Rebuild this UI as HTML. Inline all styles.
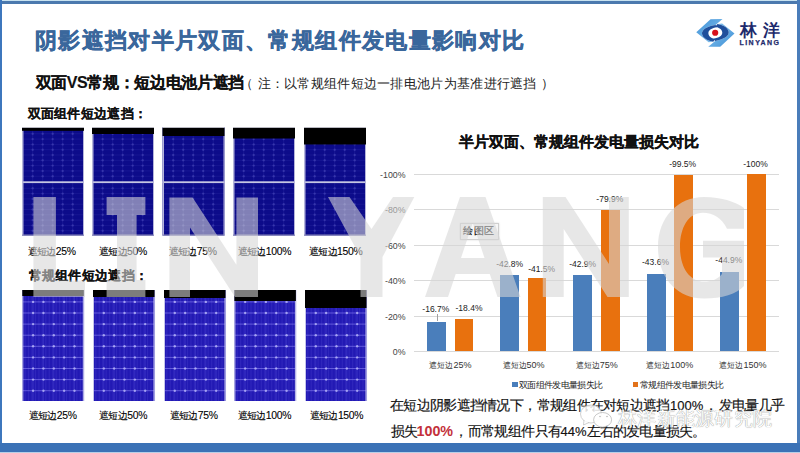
<!DOCTYPE html>
<html><head><meta charset="utf-8">
<style>
*{margin:0;padding:0;box-sizing:border-box}
html,body{width:800px;height:453px;overflow:hidden;background:#fff}
body{position:relative;font-family:"Liberation Sans",sans-serif;color:#111}
.a{position:absolute;white-space:nowrap;line-height:1}
.tp{position:absolute;top:127px;width:62px;height:108.5px;background-color:#0b0a80;
 background-image:
  linear-gradient(#c4c4e0,#c4c4e0),
  radial-gradient(circle at 50% 50%,rgba(150,150,240,.55) 0,rgba(150,150,240,.0) 1.3px),
  repeating-linear-gradient(90deg,transparent 0,transparent 9.6px,rgba(100,100,210,.22) 9.6px,rgba(100,100,210,.22) 10.4px),
  repeating-linear-gradient(180deg,transparent 0,transparent 4.6px,rgba(100,100,210,.2) 4.6px,rgba(100,100,210,.2) 5.3px);
 background-size:100% 2px,10.4px 5.3px,auto,auto;background-position:0 54px,4.8px 2.1px,0 0,0 1px;background-repeat:no-repeat,repeat,repeat,repeat;
 border-left:1.5px solid #b8b8dc;border-right:1px solid #b8b8dc;border-bottom:1px solid #8888b0}
.tp i{position:absolute;left:-1.5px;right:-1px;top:0;background:#000;border-top:1px solid #b0b0b0}
.bp{position:absolute;top:290px;width:61.5px;height:111px;background-color:#1a12a8;
 background-image:
  radial-gradient(circle at 50% 50%,rgba(235,235,255,.95) 0,rgba(235,235,255,0) 1.6px),
  repeating-linear-gradient(90deg,transparent 0,transparent 9.6px,rgba(180,180,255,.55) 9.6px,rgba(180,180,255,.55) 10.4px),
  repeating-linear-gradient(180deg,transparent 0,transparent 10.4px,rgba(180,180,255,.55) 10.4px,rgba(180,180,255,.55) 11.1px),
  repeating-linear-gradient(90deg,transparent 0,transparent 2.6px,rgba(0,0,60,.18) 2.6px,rgba(0,0,60,.18) 3.5px);
 background-size:10.4px 11.1px,auto,auto,auto;background-position:4.8px 5.3px,0 0,0 0,0 0;border-left:1px solid #c8c8e8;border-right:1px solid #c8c8e8}
.bp i{position:absolute;left:-1px;right:-1px;top:0;background:#000}
.lbl{font-size:10px;letter-spacing:-0.6px;color:#000;-webkit-text-stroke:0.1px #000}
.dg{font-size:10.4px;letter-spacing:-0.3px}
.yl{font-size:8.8px;color:#444;text-align:right;width:40px;margin-top:0.6px}
.gl{position:absolute;left:414px;width:365px;height:1px;background:#d9d9d9}
.bar{position:absolute}
.dl{font-size:8.5px;color:#222;text-align:center;width:40px}
.bt{font-size:14px;color:#111;-webkit-text-stroke:0.15px #111}
.cl{font-size:8.4px;color:#333;text-align:center;width:70px}
</style></head><body>

<!-- frame -->
<div class="a" style="left:0;top:0;width:800px;height:1px;background:#c8e2f0"></div>
<div class="a" style="left:0;top:1px;width:800px;height:2.5px;background:#4b79ae"></div>
<div class="a" style="left:0;top:0;width:2.3px;height:453px;background:#3d77bd"></div>
<div class="a" style="left:797.3px;top:0;width:2.7px;height:453px;background:#4a7dba"></div>
<div class="a" style="left:0;top:443px;width:800px;height:8.5px;background:#3b72b6"></div>
<div class="a" style="left:0;top:451.5px;width:800px;height:1.5px;background:#b8cfe6"></div>

<!-- title -->
<div class="a" style="left:35px;top:29.5px;font-size:22px;letter-spacing:1.35px;font-weight:bold;color:#3a679c;-webkit-text-stroke:0.45px #3a679c">阴影遮挡对半片双面、常规组件发电量影响对比</div>

<!-- logo -->
<svg class="a" style="left:692px;top:15px" width="50" height="35" viewBox="0 0 647 453">
 <defs>
  <linearGradient id="lg1" x1="0" y1="0" x2="1" y2="1"><stop offset="0" stop-color="#3d8fd6"/><stop offset="1" stop-color="#8cc8f0"/></linearGradient>
  <linearGradient id="lg2" x1="1" y1="1" x2="0" y2="0"><stop offset="0" stop-color="#3d8fd6"/><stop offset="1" stop-color="#8cc8f0"/></linearGradient>
 </defs>
 <path d="M240,55 L395,52 L305,128 C200,140 120,190 130,245 C140,300 210,335 275,345 L215,352 L55,222 Z" fill="url(#lg1)"/>
 <path d="M305,128 C200,140 120,190 130,245 C140,300 210,335 275,345 L300,312 C250,300 212,275 212,235 C212,195 255,168 325,158 Z" fill="#1f4f9c"/>
 <path d="M365,410 L210,412 L300,335 C405,322 485,272 475,218 C465,163 395,128 330,118 L390,110 L550,240 Z" fill="url(#lg2)"/>
 <path d="M300,335 C405,322 485,272 475,218 C465,163 395,128 330,118 L300,152 C350,162 392,188 392,228 C392,270 350,296 275,308 Z" fill="#1f4f9c"/>
 <circle cx="300" cy="230" r="40" fill="#d8101c"/>
</svg>
<div class="a" style="left:739.5px;top:21.5px;font-size:16.5px;font-weight:bold;color:#1d2a6c;letter-spacing:6px">林洋</div>
<div class="a" style="left:739.5px;top:38.8px;font-size:7px;font-weight:bold;color:#1d2a6c;letter-spacing:1.45px;top:38.6px;-webkit-text-stroke:0.25px #1d2a6c">LINYANG</div>

<!-- subtitle -->
<div class="a" style="left:35.5px;top:75.2px;font-size:16px;font-weight:bold;color:#111;-webkit-text-stroke:0.15px #111;letter-spacing:-0.35px">双面VS常规：短边电池片遮挡</div>
<div class="a" style="left:240px;top:77px;font-size:13px;color:#222">（</div>
<div class="a" style="left:257.5px;top:77px;font-size:13px;color:#222;letter-spacing:0.3px">注：以常规组件短边一排电池片为基准进行遮挡</div>
<div class="a" style="left:541px;top:77px;font-size:13px;color:#222">）</div>

<div class="a" style="left:27.5px;top:107px;font-size:13px;letter-spacing:0.3px;font-weight:bold;color:#111;-webkit-text-stroke:0.1px #111">双面组件短边遮挡：</div>
<div class="a" style="left:28.5px;top:269px;font-size:13px;letter-spacing:0.3px;font-weight:bold;color:#111;-webkit-text-stroke:0.1px #111">常规组件短边遮挡：</div>

<!-- top panels -->
<svg class="a" style="left:0;top:0" width="400" height="453">
<rect x="22" y="127" width="62" height="108.5" fill="#0c0b8a"/>
<rect x="32.20" y="127" width="1" height="108.5" fill="rgba(120,120,230,.13)"/>
<rect x="42.20" y="127" width="1" height="108.5" fill="rgba(120,120,230,.13)"/>
<rect x="52.20" y="127" width="1" height="108.5" fill="rgba(120,120,230,.13)"/>
<rect x="62.20" y="127" width="1" height="108.5" fill="rgba(120,120,230,.13)"/>
<rect x="72.20" y="127" width="1" height="108.5" fill="rgba(120,120,230,.13)"/>
<rect x="22" y="133.30" width="62" height="1" fill="rgba(120,120,230,.11)"/>
<rect x="22" y="138.60" width="62" height="1" fill="rgba(120,120,230,.11)"/>
<rect x="22" y="143.90" width="62" height="1" fill="rgba(120,120,230,.11)"/>
<rect x="22" y="149.20" width="62" height="1" fill="rgba(120,120,230,.11)"/>
<rect x="22" y="154.50" width="62" height="1" fill="rgba(120,120,230,.11)"/>
<rect x="22" y="159.80" width="62" height="1" fill="rgba(120,120,230,.11)"/>
<rect x="22" y="165.10" width="62" height="1" fill="rgba(120,120,230,.11)"/>
<rect x="22" y="170.40" width="62" height="1" fill="rgba(120,120,230,.11)"/>
<rect x="22" y="175.70" width="62" height="1" fill="rgba(120,120,230,.11)"/>
<rect x="22" y="187.80" width="62" height="1" fill="rgba(120,120,230,.11)"/>
<rect x="22" y="193.10" width="62" height="1" fill="rgba(120,120,230,.11)"/>
<rect x="22" y="198.40" width="62" height="1" fill="rgba(120,120,230,.11)"/>
<rect x="22" y="203.70" width="62" height="1" fill="rgba(120,120,230,.11)"/>
<rect x="22" y="209.00" width="62" height="1" fill="rgba(120,120,230,.11)"/>
<rect x="22" y="214.30" width="62" height="1" fill="rgba(120,120,230,.11)"/>
<rect x="22" y="219.60" width="62" height="1" fill="rgba(120,120,230,.11)"/>
<rect x="22" y="224.90" width="62" height="1" fill="rgba(120,120,230,.11)"/>
<rect x="22" y="230.20" width="62" height="1" fill="rgba(120,120,230,.11)"/>
<circle cx="32.70" cy="133.80" r="1.2" fill="rgba(140,140,235,.24)"/>
<circle cx="32.70" cy="139.10" r="1.2" fill="rgba(140,140,235,.24)"/>
<circle cx="32.70" cy="144.40" r="1.2" fill="rgba(140,140,235,.24)"/>
<circle cx="32.70" cy="149.70" r="1.2" fill="rgba(140,140,235,.24)"/>
<circle cx="32.70" cy="155.00" r="1.2" fill="rgba(140,140,235,.24)"/>
<circle cx="32.70" cy="160.30" r="1.2" fill="rgba(140,140,235,.24)"/>
<circle cx="32.70" cy="165.60" r="1.2" fill="rgba(140,140,235,.24)"/>
<circle cx="32.70" cy="170.90" r="1.2" fill="rgba(140,140,235,.24)"/>
<circle cx="32.70" cy="176.20" r="1.2" fill="rgba(140,140,235,.24)"/>
<circle cx="32.70" cy="188.30" r="1.2" fill="rgba(140,140,235,.24)"/>
<circle cx="32.70" cy="193.60" r="1.2" fill="rgba(140,140,235,.24)"/>
<circle cx="32.70" cy="198.90" r="1.2" fill="rgba(140,140,235,.24)"/>
<circle cx="32.70" cy="204.20" r="1.2" fill="rgba(140,140,235,.24)"/>
<circle cx="32.70" cy="209.50" r="1.2" fill="rgba(140,140,235,.24)"/>
<circle cx="32.70" cy="214.80" r="1.2" fill="rgba(140,140,235,.24)"/>
<circle cx="32.70" cy="220.10" r="1.2" fill="rgba(140,140,235,.24)"/>
<circle cx="32.70" cy="225.40" r="1.2" fill="rgba(140,140,235,.24)"/>
<circle cx="32.70" cy="230.70" r="1.2" fill="rgba(140,140,235,.24)"/>
<circle cx="42.70" cy="133.80" r="1.2" fill="rgba(140,140,235,.24)"/>
<circle cx="42.70" cy="139.10" r="1.2" fill="rgba(140,140,235,.24)"/>
<circle cx="42.70" cy="144.40" r="1.2" fill="rgba(140,140,235,.24)"/>
<circle cx="42.70" cy="149.70" r="1.2" fill="rgba(140,140,235,.24)"/>
<circle cx="42.70" cy="155.00" r="1.2" fill="rgba(140,140,235,.24)"/>
<circle cx="42.70" cy="160.30" r="1.2" fill="rgba(140,140,235,.24)"/>
<circle cx="42.70" cy="165.60" r="1.2" fill="rgba(140,140,235,.24)"/>
<circle cx="42.70" cy="170.90" r="1.2" fill="rgba(140,140,235,.24)"/>
<circle cx="42.70" cy="176.20" r="1.2" fill="rgba(140,140,235,.24)"/>
<circle cx="42.70" cy="188.30" r="1.2" fill="rgba(140,140,235,.24)"/>
<circle cx="42.70" cy="193.60" r="1.2" fill="rgba(140,140,235,.24)"/>
<circle cx="42.70" cy="198.90" r="1.2" fill="rgba(140,140,235,.24)"/>
<circle cx="42.70" cy="204.20" r="1.2" fill="rgba(140,140,235,.24)"/>
<circle cx="42.70" cy="209.50" r="1.2" fill="rgba(140,140,235,.24)"/>
<circle cx="42.70" cy="214.80" r="1.2" fill="rgba(140,140,235,.24)"/>
<circle cx="42.70" cy="220.10" r="1.2" fill="rgba(140,140,235,.24)"/>
<circle cx="42.70" cy="225.40" r="1.2" fill="rgba(140,140,235,.24)"/>
<circle cx="42.70" cy="230.70" r="1.2" fill="rgba(140,140,235,.24)"/>
<circle cx="52.70" cy="133.80" r="1.2" fill="rgba(140,140,235,.24)"/>
<circle cx="52.70" cy="139.10" r="1.2" fill="rgba(140,140,235,.24)"/>
<circle cx="52.70" cy="144.40" r="1.2" fill="rgba(140,140,235,.24)"/>
<circle cx="52.70" cy="149.70" r="1.2" fill="rgba(140,140,235,.24)"/>
<circle cx="52.70" cy="155.00" r="1.2" fill="rgba(140,140,235,.24)"/>
<circle cx="52.70" cy="160.30" r="1.2" fill="rgba(140,140,235,.24)"/>
<circle cx="52.70" cy="165.60" r="1.2" fill="rgba(140,140,235,.24)"/>
<circle cx="52.70" cy="170.90" r="1.2" fill="rgba(140,140,235,.24)"/>
<circle cx="52.70" cy="176.20" r="1.2" fill="rgba(140,140,235,.24)"/>
<circle cx="52.70" cy="188.30" r="1.2" fill="rgba(140,140,235,.24)"/>
<circle cx="52.70" cy="193.60" r="1.2" fill="rgba(140,140,235,.24)"/>
<circle cx="52.70" cy="198.90" r="1.2" fill="rgba(140,140,235,.24)"/>
<circle cx="52.70" cy="204.20" r="1.2" fill="rgba(140,140,235,.24)"/>
<circle cx="52.70" cy="209.50" r="1.2" fill="rgba(140,140,235,.24)"/>
<circle cx="52.70" cy="214.80" r="1.2" fill="rgba(140,140,235,.24)"/>
<circle cx="52.70" cy="220.10" r="1.2" fill="rgba(140,140,235,.24)"/>
<circle cx="52.70" cy="225.40" r="1.2" fill="rgba(140,140,235,.24)"/>
<circle cx="52.70" cy="230.70" r="1.2" fill="rgba(140,140,235,.24)"/>
<circle cx="62.70" cy="133.80" r="1.2" fill="rgba(140,140,235,.24)"/>
<circle cx="62.70" cy="139.10" r="1.2" fill="rgba(140,140,235,.24)"/>
<circle cx="62.70" cy="144.40" r="1.2" fill="rgba(140,140,235,.24)"/>
<circle cx="62.70" cy="149.70" r="1.2" fill="rgba(140,140,235,.24)"/>
<circle cx="62.70" cy="155.00" r="1.2" fill="rgba(140,140,235,.24)"/>
<circle cx="62.70" cy="160.30" r="1.2" fill="rgba(140,140,235,.24)"/>
<circle cx="62.70" cy="165.60" r="1.2" fill="rgba(140,140,235,.24)"/>
<circle cx="62.70" cy="170.90" r="1.2" fill="rgba(140,140,235,.24)"/>
<circle cx="62.70" cy="176.20" r="1.2" fill="rgba(140,140,235,.24)"/>
<circle cx="62.70" cy="188.30" r="1.2" fill="rgba(140,140,235,.24)"/>
<circle cx="62.70" cy="193.60" r="1.2" fill="rgba(140,140,235,.24)"/>
<circle cx="62.70" cy="198.90" r="1.2" fill="rgba(140,140,235,.24)"/>
<circle cx="62.70" cy="204.20" r="1.2" fill="rgba(140,140,235,.24)"/>
<circle cx="62.70" cy="209.50" r="1.2" fill="rgba(140,140,235,.24)"/>
<circle cx="62.70" cy="214.80" r="1.2" fill="rgba(140,140,235,.24)"/>
<circle cx="62.70" cy="220.10" r="1.2" fill="rgba(140,140,235,.24)"/>
<circle cx="62.70" cy="225.40" r="1.2" fill="rgba(140,140,235,.24)"/>
<circle cx="62.70" cy="230.70" r="1.2" fill="rgba(140,140,235,.24)"/>
<circle cx="72.70" cy="133.80" r="1.2" fill="rgba(140,140,235,.24)"/>
<circle cx="72.70" cy="139.10" r="1.2" fill="rgba(140,140,235,.24)"/>
<circle cx="72.70" cy="144.40" r="1.2" fill="rgba(140,140,235,.24)"/>
<circle cx="72.70" cy="149.70" r="1.2" fill="rgba(140,140,235,.24)"/>
<circle cx="72.70" cy="155.00" r="1.2" fill="rgba(140,140,235,.24)"/>
<circle cx="72.70" cy="160.30" r="1.2" fill="rgba(140,140,235,.24)"/>
<circle cx="72.70" cy="165.60" r="1.2" fill="rgba(140,140,235,.24)"/>
<circle cx="72.70" cy="170.90" r="1.2" fill="rgba(140,140,235,.24)"/>
<circle cx="72.70" cy="176.20" r="1.2" fill="rgba(140,140,235,.24)"/>
<circle cx="72.70" cy="188.30" r="1.2" fill="rgba(140,140,235,.24)"/>
<circle cx="72.70" cy="193.60" r="1.2" fill="rgba(140,140,235,.24)"/>
<circle cx="72.70" cy="198.90" r="1.2" fill="rgba(140,140,235,.24)"/>
<circle cx="72.70" cy="204.20" r="1.2" fill="rgba(140,140,235,.24)"/>
<circle cx="72.70" cy="209.50" r="1.2" fill="rgba(140,140,235,.24)"/>
<circle cx="72.70" cy="214.80" r="1.2" fill="rgba(140,140,235,.24)"/>
<circle cx="72.70" cy="220.10" r="1.2" fill="rgba(140,140,235,.24)"/>
<circle cx="72.70" cy="225.40" r="1.2" fill="rgba(140,140,235,.24)"/>
<circle cx="72.70" cy="230.70" r="1.2" fill="rgba(140,140,235,.24)"/>
<rect x="22" y="181.3" width="62" height="1.8" fill="#c6c6e2"/>
<rect x="22" y="127" width="1.5" height="108.5" fill="#b4b4da"/>
<rect x="83" y="127" width="1" height="108.5" fill="#b4b4da"/>
<rect x="22" y="234.5" width="62" height="1" fill="#8a8ab8"/>
<rect x="22" y="128" width="62" height="2.8" fill="#000"/>
<rect x="22" y="127" width="62" height="1" fill="#b8b8c0"/>
<rect x="92" y="127" width="62" height="108.5" fill="#0c0b8a"/>
<rect x="102.20" y="127" width="1" height="108.5" fill="rgba(120,120,230,.13)"/>
<rect x="112.20" y="127" width="1" height="108.5" fill="rgba(120,120,230,.13)"/>
<rect x="122.20" y="127" width="1" height="108.5" fill="rgba(120,120,230,.13)"/>
<rect x="132.20" y="127" width="1" height="108.5" fill="rgba(120,120,230,.13)"/>
<rect x="142.20" y="127" width="1" height="108.5" fill="rgba(120,120,230,.13)"/>
<rect x="92" y="133.30" width="62" height="1" fill="rgba(120,120,230,.11)"/>
<rect x="92" y="138.60" width="62" height="1" fill="rgba(120,120,230,.11)"/>
<rect x="92" y="143.90" width="62" height="1" fill="rgba(120,120,230,.11)"/>
<rect x="92" y="149.20" width="62" height="1" fill="rgba(120,120,230,.11)"/>
<rect x="92" y="154.50" width="62" height="1" fill="rgba(120,120,230,.11)"/>
<rect x="92" y="159.80" width="62" height="1" fill="rgba(120,120,230,.11)"/>
<rect x="92" y="165.10" width="62" height="1" fill="rgba(120,120,230,.11)"/>
<rect x="92" y="170.40" width="62" height="1" fill="rgba(120,120,230,.11)"/>
<rect x="92" y="175.70" width="62" height="1" fill="rgba(120,120,230,.11)"/>
<rect x="92" y="187.80" width="62" height="1" fill="rgba(120,120,230,.11)"/>
<rect x="92" y="193.10" width="62" height="1" fill="rgba(120,120,230,.11)"/>
<rect x="92" y="198.40" width="62" height="1" fill="rgba(120,120,230,.11)"/>
<rect x="92" y="203.70" width="62" height="1" fill="rgba(120,120,230,.11)"/>
<rect x="92" y="209.00" width="62" height="1" fill="rgba(120,120,230,.11)"/>
<rect x="92" y="214.30" width="62" height="1" fill="rgba(120,120,230,.11)"/>
<rect x="92" y="219.60" width="62" height="1" fill="rgba(120,120,230,.11)"/>
<rect x="92" y="224.90" width="62" height="1" fill="rgba(120,120,230,.11)"/>
<rect x="92" y="230.20" width="62" height="1" fill="rgba(120,120,230,.11)"/>
<circle cx="102.70" cy="133.80" r="1.2" fill="rgba(140,140,235,.24)"/>
<circle cx="102.70" cy="139.10" r="1.2" fill="rgba(140,140,235,.24)"/>
<circle cx="102.70" cy="144.40" r="1.2" fill="rgba(140,140,235,.24)"/>
<circle cx="102.70" cy="149.70" r="1.2" fill="rgba(140,140,235,.24)"/>
<circle cx="102.70" cy="155.00" r="1.2" fill="rgba(140,140,235,.24)"/>
<circle cx="102.70" cy="160.30" r="1.2" fill="rgba(140,140,235,.24)"/>
<circle cx="102.70" cy="165.60" r="1.2" fill="rgba(140,140,235,.24)"/>
<circle cx="102.70" cy="170.90" r="1.2" fill="rgba(140,140,235,.24)"/>
<circle cx="102.70" cy="176.20" r="1.2" fill="rgba(140,140,235,.24)"/>
<circle cx="102.70" cy="188.30" r="1.2" fill="rgba(140,140,235,.24)"/>
<circle cx="102.70" cy="193.60" r="1.2" fill="rgba(140,140,235,.24)"/>
<circle cx="102.70" cy="198.90" r="1.2" fill="rgba(140,140,235,.24)"/>
<circle cx="102.70" cy="204.20" r="1.2" fill="rgba(140,140,235,.24)"/>
<circle cx="102.70" cy="209.50" r="1.2" fill="rgba(140,140,235,.24)"/>
<circle cx="102.70" cy="214.80" r="1.2" fill="rgba(140,140,235,.24)"/>
<circle cx="102.70" cy="220.10" r="1.2" fill="rgba(140,140,235,.24)"/>
<circle cx="102.70" cy="225.40" r="1.2" fill="rgba(140,140,235,.24)"/>
<circle cx="102.70" cy="230.70" r="1.2" fill="rgba(140,140,235,.24)"/>
<circle cx="112.70" cy="133.80" r="1.2" fill="rgba(140,140,235,.24)"/>
<circle cx="112.70" cy="139.10" r="1.2" fill="rgba(140,140,235,.24)"/>
<circle cx="112.70" cy="144.40" r="1.2" fill="rgba(140,140,235,.24)"/>
<circle cx="112.70" cy="149.70" r="1.2" fill="rgba(140,140,235,.24)"/>
<circle cx="112.70" cy="155.00" r="1.2" fill="rgba(140,140,235,.24)"/>
<circle cx="112.70" cy="160.30" r="1.2" fill="rgba(140,140,235,.24)"/>
<circle cx="112.70" cy="165.60" r="1.2" fill="rgba(140,140,235,.24)"/>
<circle cx="112.70" cy="170.90" r="1.2" fill="rgba(140,140,235,.24)"/>
<circle cx="112.70" cy="176.20" r="1.2" fill="rgba(140,140,235,.24)"/>
<circle cx="112.70" cy="188.30" r="1.2" fill="rgba(140,140,235,.24)"/>
<circle cx="112.70" cy="193.60" r="1.2" fill="rgba(140,140,235,.24)"/>
<circle cx="112.70" cy="198.90" r="1.2" fill="rgba(140,140,235,.24)"/>
<circle cx="112.70" cy="204.20" r="1.2" fill="rgba(140,140,235,.24)"/>
<circle cx="112.70" cy="209.50" r="1.2" fill="rgba(140,140,235,.24)"/>
<circle cx="112.70" cy="214.80" r="1.2" fill="rgba(140,140,235,.24)"/>
<circle cx="112.70" cy="220.10" r="1.2" fill="rgba(140,140,235,.24)"/>
<circle cx="112.70" cy="225.40" r="1.2" fill="rgba(140,140,235,.24)"/>
<circle cx="112.70" cy="230.70" r="1.2" fill="rgba(140,140,235,.24)"/>
<circle cx="122.70" cy="133.80" r="1.2" fill="rgba(140,140,235,.24)"/>
<circle cx="122.70" cy="139.10" r="1.2" fill="rgba(140,140,235,.24)"/>
<circle cx="122.70" cy="144.40" r="1.2" fill="rgba(140,140,235,.24)"/>
<circle cx="122.70" cy="149.70" r="1.2" fill="rgba(140,140,235,.24)"/>
<circle cx="122.70" cy="155.00" r="1.2" fill="rgba(140,140,235,.24)"/>
<circle cx="122.70" cy="160.30" r="1.2" fill="rgba(140,140,235,.24)"/>
<circle cx="122.70" cy="165.60" r="1.2" fill="rgba(140,140,235,.24)"/>
<circle cx="122.70" cy="170.90" r="1.2" fill="rgba(140,140,235,.24)"/>
<circle cx="122.70" cy="176.20" r="1.2" fill="rgba(140,140,235,.24)"/>
<circle cx="122.70" cy="188.30" r="1.2" fill="rgba(140,140,235,.24)"/>
<circle cx="122.70" cy="193.60" r="1.2" fill="rgba(140,140,235,.24)"/>
<circle cx="122.70" cy="198.90" r="1.2" fill="rgba(140,140,235,.24)"/>
<circle cx="122.70" cy="204.20" r="1.2" fill="rgba(140,140,235,.24)"/>
<circle cx="122.70" cy="209.50" r="1.2" fill="rgba(140,140,235,.24)"/>
<circle cx="122.70" cy="214.80" r="1.2" fill="rgba(140,140,235,.24)"/>
<circle cx="122.70" cy="220.10" r="1.2" fill="rgba(140,140,235,.24)"/>
<circle cx="122.70" cy="225.40" r="1.2" fill="rgba(140,140,235,.24)"/>
<circle cx="122.70" cy="230.70" r="1.2" fill="rgba(140,140,235,.24)"/>
<circle cx="132.70" cy="133.80" r="1.2" fill="rgba(140,140,235,.24)"/>
<circle cx="132.70" cy="139.10" r="1.2" fill="rgba(140,140,235,.24)"/>
<circle cx="132.70" cy="144.40" r="1.2" fill="rgba(140,140,235,.24)"/>
<circle cx="132.70" cy="149.70" r="1.2" fill="rgba(140,140,235,.24)"/>
<circle cx="132.70" cy="155.00" r="1.2" fill="rgba(140,140,235,.24)"/>
<circle cx="132.70" cy="160.30" r="1.2" fill="rgba(140,140,235,.24)"/>
<circle cx="132.70" cy="165.60" r="1.2" fill="rgba(140,140,235,.24)"/>
<circle cx="132.70" cy="170.90" r="1.2" fill="rgba(140,140,235,.24)"/>
<circle cx="132.70" cy="176.20" r="1.2" fill="rgba(140,140,235,.24)"/>
<circle cx="132.70" cy="188.30" r="1.2" fill="rgba(140,140,235,.24)"/>
<circle cx="132.70" cy="193.60" r="1.2" fill="rgba(140,140,235,.24)"/>
<circle cx="132.70" cy="198.90" r="1.2" fill="rgba(140,140,235,.24)"/>
<circle cx="132.70" cy="204.20" r="1.2" fill="rgba(140,140,235,.24)"/>
<circle cx="132.70" cy="209.50" r="1.2" fill="rgba(140,140,235,.24)"/>
<circle cx="132.70" cy="214.80" r="1.2" fill="rgba(140,140,235,.24)"/>
<circle cx="132.70" cy="220.10" r="1.2" fill="rgba(140,140,235,.24)"/>
<circle cx="132.70" cy="225.40" r="1.2" fill="rgba(140,140,235,.24)"/>
<circle cx="132.70" cy="230.70" r="1.2" fill="rgba(140,140,235,.24)"/>
<circle cx="142.70" cy="133.80" r="1.2" fill="rgba(140,140,235,.24)"/>
<circle cx="142.70" cy="139.10" r="1.2" fill="rgba(140,140,235,.24)"/>
<circle cx="142.70" cy="144.40" r="1.2" fill="rgba(140,140,235,.24)"/>
<circle cx="142.70" cy="149.70" r="1.2" fill="rgba(140,140,235,.24)"/>
<circle cx="142.70" cy="155.00" r="1.2" fill="rgba(140,140,235,.24)"/>
<circle cx="142.70" cy="160.30" r="1.2" fill="rgba(140,140,235,.24)"/>
<circle cx="142.70" cy="165.60" r="1.2" fill="rgba(140,140,235,.24)"/>
<circle cx="142.70" cy="170.90" r="1.2" fill="rgba(140,140,235,.24)"/>
<circle cx="142.70" cy="176.20" r="1.2" fill="rgba(140,140,235,.24)"/>
<circle cx="142.70" cy="188.30" r="1.2" fill="rgba(140,140,235,.24)"/>
<circle cx="142.70" cy="193.60" r="1.2" fill="rgba(140,140,235,.24)"/>
<circle cx="142.70" cy="198.90" r="1.2" fill="rgba(140,140,235,.24)"/>
<circle cx="142.70" cy="204.20" r="1.2" fill="rgba(140,140,235,.24)"/>
<circle cx="142.70" cy="209.50" r="1.2" fill="rgba(140,140,235,.24)"/>
<circle cx="142.70" cy="214.80" r="1.2" fill="rgba(140,140,235,.24)"/>
<circle cx="142.70" cy="220.10" r="1.2" fill="rgba(140,140,235,.24)"/>
<circle cx="142.70" cy="225.40" r="1.2" fill="rgba(140,140,235,.24)"/>
<circle cx="142.70" cy="230.70" r="1.2" fill="rgba(140,140,235,.24)"/>
<rect x="92" y="181.3" width="62" height="1.8" fill="#c6c6e2"/>
<rect x="92" y="127" width="1.5" height="108.5" fill="#b4b4da"/>
<rect x="153" y="127" width="1" height="108.5" fill="#b4b4da"/>
<rect x="92" y="234.5" width="62" height="1" fill="#8a8ab8"/>
<rect x="92" y="128" width="62" height="6" fill="#000"/>
<rect x="92" y="127" width="62" height="1" fill="#b8b8c0"/>
<rect x="162.5" y="127" width="62" height="108.5" fill="#0c0b8a"/>
<rect x="172.70" y="127" width="1" height="108.5" fill="rgba(120,120,230,.13)"/>
<rect x="182.70" y="127" width="1" height="108.5" fill="rgba(120,120,230,.13)"/>
<rect x="192.70" y="127" width="1" height="108.5" fill="rgba(120,120,230,.13)"/>
<rect x="202.70" y="127" width="1" height="108.5" fill="rgba(120,120,230,.13)"/>
<rect x="212.70" y="127" width="1" height="108.5" fill="rgba(120,120,230,.13)"/>
<rect x="162.5" y="133.30" width="62" height="1" fill="rgba(120,120,230,.11)"/>
<rect x="162.5" y="138.60" width="62" height="1" fill="rgba(120,120,230,.11)"/>
<rect x="162.5" y="143.90" width="62" height="1" fill="rgba(120,120,230,.11)"/>
<rect x="162.5" y="149.20" width="62" height="1" fill="rgba(120,120,230,.11)"/>
<rect x="162.5" y="154.50" width="62" height="1" fill="rgba(120,120,230,.11)"/>
<rect x="162.5" y="159.80" width="62" height="1" fill="rgba(120,120,230,.11)"/>
<rect x="162.5" y="165.10" width="62" height="1" fill="rgba(120,120,230,.11)"/>
<rect x="162.5" y="170.40" width="62" height="1" fill="rgba(120,120,230,.11)"/>
<rect x="162.5" y="175.70" width="62" height="1" fill="rgba(120,120,230,.11)"/>
<rect x="162.5" y="187.80" width="62" height="1" fill="rgba(120,120,230,.11)"/>
<rect x="162.5" y="193.10" width="62" height="1" fill="rgba(120,120,230,.11)"/>
<rect x="162.5" y="198.40" width="62" height="1" fill="rgba(120,120,230,.11)"/>
<rect x="162.5" y="203.70" width="62" height="1" fill="rgba(120,120,230,.11)"/>
<rect x="162.5" y="209.00" width="62" height="1" fill="rgba(120,120,230,.11)"/>
<rect x="162.5" y="214.30" width="62" height="1" fill="rgba(120,120,230,.11)"/>
<rect x="162.5" y="219.60" width="62" height="1" fill="rgba(120,120,230,.11)"/>
<rect x="162.5" y="224.90" width="62" height="1" fill="rgba(120,120,230,.11)"/>
<rect x="162.5" y="230.20" width="62" height="1" fill="rgba(120,120,230,.11)"/>
<circle cx="173.20" cy="133.80" r="1.2" fill="rgba(140,140,235,.24)"/>
<circle cx="173.20" cy="139.10" r="1.2" fill="rgba(140,140,235,.24)"/>
<circle cx="173.20" cy="144.40" r="1.2" fill="rgba(140,140,235,.24)"/>
<circle cx="173.20" cy="149.70" r="1.2" fill="rgba(140,140,235,.24)"/>
<circle cx="173.20" cy="155.00" r="1.2" fill="rgba(140,140,235,.24)"/>
<circle cx="173.20" cy="160.30" r="1.2" fill="rgba(140,140,235,.24)"/>
<circle cx="173.20" cy="165.60" r="1.2" fill="rgba(140,140,235,.24)"/>
<circle cx="173.20" cy="170.90" r="1.2" fill="rgba(140,140,235,.24)"/>
<circle cx="173.20" cy="176.20" r="1.2" fill="rgba(140,140,235,.24)"/>
<circle cx="173.20" cy="188.30" r="1.2" fill="rgba(140,140,235,.24)"/>
<circle cx="173.20" cy="193.60" r="1.2" fill="rgba(140,140,235,.24)"/>
<circle cx="173.20" cy="198.90" r="1.2" fill="rgba(140,140,235,.24)"/>
<circle cx="173.20" cy="204.20" r="1.2" fill="rgba(140,140,235,.24)"/>
<circle cx="173.20" cy="209.50" r="1.2" fill="rgba(140,140,235,.24)"/>
<circle cx="173.20" cy="214.80" r="1.2" fill="rgba(140,140,235,.24)"/>
<circle cx="173.20" cy="220.10" r="1.2" fill="rgba(140,140,235,.24)"/>
<circle cx="173.20" cy="225.40" r="1.2" fill="rgba(140,140,235,.24)"/>
<circle cx="173.20" cy="230.70" r="1.2" fill="rgba(140,140,235,.24)"/>
<circle cx="183.20" cy="133.80" r="1.2" fill="rgba(140,140,235,.24)"/>
<circle cx="183.20" cy="139.10" r="1.2" fill="rgba(140,140,235,.24)"/>
<circle cx="183.20" cy="144.40" r="1.2" fill="rgba(140,140,235,.24)"/>
<circle cx="183.20" cy="149.70" r="1.2" fill="rgba(140,140,235,.24)"/>
<circle cx="183.20" cy="155.00" r="1.2" fill="rgba(140,140,235,.24)"/>
<circle cx="183.20" cy="160.30" r="1.2" fill="rgba(140,140,235,.24)"/>
<circle cx="183.20" cy="165.60" r="1.2" fill="rgba(140,140,235,.24)"/>
<circle cx="183.20" cy="170.90" r="1.2" fill="rgba(140,140,235,.24)"/>
<circle cx="183.20" cy="176.20" r="1.2" fill="rgba(140,140,235,.24)"/>
<circle cx="183.20" cy="188.30" r="1.2" fill="rgba(140,140,235,.24)"/>
<circle cx="183.20" cy="193.60" r="1.2" fill="rgba(140,140,235,.24)"/>
<circle cx="183.20" cy="198.90" r="1.2" fill="rgba(140,140,235,.24)"/>
<circle cx="183.20" cy="204.20" r="1.2" fill="rgba(140,140,235,.24)"/>
<circle cx="183.20" cy="209.50" r="1.2" fill="rgba(140,140,235,.24)"/>
<circle cx="183.20" cy="214.80" r="1.2" fill="rgba(140,140,235,.24)"/>
<circle cx="183.20" cy="220.10" r="1.2" fill="rgba(140,140,235,.24)"/>
<circle cx="183.20" cy="225.40" r="1.2" fill="rgba(140,140,235,.24)"/>
<circle cx="183.20" cy="230.70" r="1.2" fill="rgba(140,140,235,.24)"/>
<circle cx="193.20" cy="133.80" r="1.2" fill="rgba(140,140,235,.24)"/>
<circle cx="193.20" cy="139.10" r="1.2" fill="rgba(140,140,235,.24)"/>
<circle cx="193.20" cy="144.40" r="1.2" fill="rgba(140,140,235,.24)"/>
<circle cx="193.20" cy="149.70" r="1.2" fill="rgba(140,140,235,.24)"/>
<circle cx="193.20" cy="155.00" r="1.2" fill="rgba(140,140,235,.24)"/>
<circle cx="193.20" cy="160.30" r="1.2" fill="rgba(140,140,235,.24)"/>
<circle cx="193.20" cy="165.60" r="1.2" fill="rgba(140,140,235,.24)"/>
<circle cx="193.20" cy="170.90" r="1.2" fill="rgba(140,140,235,.24)"/>
<circle cx="193.20" cy="176.20" r="1.2" fill="rgba(140,140,235,.24)"/>
<circle cx="193.20" cy="188.30" r="1.2" fill="rgba(140,140,235,.24)"/>
<circle cx="193.20" cy="193.60" r="1.2" fill="rgba(140,140,235,.24)"/>
<circle cx="193.20" cy="198.90" r="1.2" fill="rgba(140,140,235,.24)"/>
<circle cx="193.20" cy="204.20" r="1.2" fill="rgba(140,140,235,.24)"/>
<circle cx="193.20" cy="209.50" r="1.2" fill="rgba(140,140,235,.24)"/>
<circle cx="193.20" cy="214.80" r="1.2" fill="rgba(140,140,235,.24)"/>
<circle cx="193.20" cy="220.10" r="1.2" fill="rgba(140,140,235,.24)"/>
<circle cx="193.20" cy="225.40" r="1.2" fill="rgba(140,140,235,.24)"/>
<circle cx="193.20" cy="230.70" r="1.2" fill="rgba(140,140,235,.24)"/>
<circle cx="203.20" cy="133.80" r="1.2" fill="rgba(140,140,235,.24)"/>
<circle cx="203.20" cy="139.10" r="1.2" fill="rgba(140,140,235,.24)"/>
<circle cx="203.20" cy="144.40" r="1.2" fill="rgba(140,140,235,.24)"/>
<circle cx="203.20" cy="149.70" r="1.2" fill="rgba(140,140,235,.24)"/>
<circle cx="203.20" cy="155.00" r="1.2" fill="rgba(140,140,235,.24)"/>
<circle cx="203.20" cy="160.30" r="1.2" fill="rgba(140,140,235,.24)"/>
<circle cx="203.20" cy="165.60" r="1.2" fill="rgba(140,140,235,.24)"/>
<circle cx="203.20" cy="170.90" r="1.2" fill="rgba(140,140,235,.24)"/>
<circle cx="203.20" cy="176.20" r="1.2" fill="rgba(140,140,235,.24)"/>
<circle cx="203.20" cy="188.30" r="1.2" fill="rgba(140,140,235,.24)"/>
<circle cx="203.20" cy="193.60" r="1.2" fill="rgba(140,140,235,.24)"/>
<circle cx="203.20" cy="198.90" r="1.2" fill="rgba(140,140,235,.24)"/>
<circle cx="203.20" cy="204.20" r="1.2" fill="rgba(140,140,235,.24)"/>
<circle cx="203.20" cy="209.50" r="1.2" fill="rgba(140,140,235,.24)"/>
<circle cx="203.20" cy="214.80" r="1.2" fill="rgba(140,140,235,.24)"/>
<circle cx="203.20" cy="220.10" r="1.2" fill="rgba(140,140,235,.24)"/>
<circle cx="203.20" cy="225.40" r="1.2" fill="rgba(140,140,235,.24)"/>
<circle cx="203.20" cy="230.70" r="1.2" fill="rgba(140,140,235,.24)"/>
<circle cx="213.20" cy="133.80" r="1.2" fill="rgba(140,140,235,.24)"/>
<circle cx="213.20" cy="139.10" r="1.2" fill="rgba(140,140,235,.24)"/>
<circle cx="213.20" cy="144.40" r="1.2" fill="rgba(140,140,235,.24)"/>
<circle cx="213.20" cy="149.70" r="1.2" fill="rgba(140,140,235,.24)"/>
<circle cx="213.20" cy="155.00" r="1.2" fill="rgba(140,140,235,.24)"/>
<circle cx="213.20" cy="160.30" r="1.2" fill="rgba(140,140,235,.24)"/>
<circle cx="213.20" cy="165.60" r="1.2" fill="rgba(140,140,235,.24)"/>
<circle cx="213.20" cy="170.90" r="1.2" fill="rgba(140,140,235,.24)"/>
<circle cx="213.20" cy="176.20" r="1.2" fill="rgba(140,140,235,.24)"/>
<circle cx="213.20" cy="188.30" r="1.2" fill="rgba(140,140,235,.24)"/>
<circle cx="213.20" cy="193.60" r="1.2" fill="rgba(140,140,235,.24)"/>
<circle cx="213.20" cy="198.90" r="1.2" fill="rgba(140,140,235,.24)"/>
<circle cx="213.20" cy="204.20" r="1.2" fill="rgba(140,140,235,.24)"/>
<circle cx="213.20" cy="209.50" r="1.2" fill="rgba(140,140,235,.24)"/>
<circle cx="213.20" cy="214.80" r="1.2" fill="rgba(140,140,235,.24)"/>
<circle cx="213.20" cy="220.10" r="1.2" fill="rgba(140,140,235,.24)"/>
<circle cx="213.20" cy="225.40" r="1.2" fill="rgba(140,140,235,.24)"/>
<circle cx="213.20" cy="230.70" r="1.2" fill="rgba(140,140,235,.24)"/>
<rect x="162.5" y="181.3" width="62" height="1.8" fill="#c6c6e2"/>
<rect x="162.5" y="127" width="1.5" height="108.5" fill="#b4b4da"/>
<rect x="223.5" y="127" width="1" height="108.5" fill="#b4b4da"/>
<rect x="162.5" y="234.5" width="62" height="1" fill="#8a8ab8"/>
<rect x="162.5" y="128" width="62" height="8" fill="#000"/>
<rect x="162.5" y="127" width="62" height="1" fill="#b8b8c0"/>
<rect x="233" y="127" width="62" height="108.5" fill="#0c0b8a"/>
<rect x="243.20" y="127" width="1" height="108.5" fill="rgba(120,120,230,.13)"/>
<rect x="253.20" y="127" width="1" height="108.5" fill="rgba(120,120,230,.13)"/>
<rect x="263.20" y="127" width="1" height="108.5" fill="rgba(120,120,230,.13)"/>
<rect x="273.20" y="127" width="1" height="108.5" fill="rgba(120,120,230,.13)"/>
<rect x="283.20" y="127" width="1" height="108.5" fill="rgba(120,120,230,.13)"/>
<rect x="233" y="133.30" width="62" height="1" fill="rgba(120,120,230,.11)"/>
<rect x="233" y="138.60" width="62" height="1" fill="rgba(120,120,230,.11)"/>
<rect x="233" y="143.90" width="62" height="1" fill="rgba(120,120,230,.11)"/>
<rect x="233" y="149.20" width="62" height="1" fill="rgba(120,120,230,.11)"/>
<rect x="233" y="154.50" width="62" height="1" fill="rgba(120,120,230,.11)"/>
<rect x="233" y="159.80" width="62" height="1" fill="rgba(120,120,230,.11)"/>
<rect x="233" y="165.10" width="62" height="1" fill="rgba(120,120,230,.11)"/>
<rect x="233" y="170.40" width="62" height="1" fill="rgba(120,120,230,.11)"/>
<rect x="233" y="175.70" width="62" height="1" fill="rgba(120,120,230,.11)"/>
<rect x="233" y="187.80" width="62" height="1" fill="rgba(120,120,230,.11)"/>
<rect x="233" y="193.10" width="62" height="1" fill="rgba(120,120,230,.11)"/>
<rect x="233" y="198.40" width="62" height="1" fill="rgba(120,120,230,.11)"/>
<rect x="233" y="203.70" width="62" height="1" fill="rgba(120,120,230,.11)"/>
<rect x="233" y="209.00" width="62" height="1" fill="rgba(120,120,230,.11)"/>
<rect x="233" y="214.30" width="62" height="1" fill="rgba(120,120,230,.11)"/>
<rect x="233" y="219.60" width="62" height="1" fill="rgba(120,120,230,.11)"/>
<rect x="233" y="224.90" width="62" height="1" fill="rgba(120,120,230,.11)"/>
<rect x="233" y="230.20" width="62" height="1" fill="rgba(120,120,230,.11)"/>
<circle cx="243.70" cy="133.80" r="1.2" fill="rgba(140,140,235,.24)"/>
<circle cx="243.70" cy="139.10" r="1.2" fill="rgba(140,140,235,.24)"/>
<circle cx="243.70" cy="144.40" r="1.2" fill="rgba(140,140,235,.24)"/>
<circle cx="243.70" cy="149.70" r="1.2" fill="rgba(140,140,235,.24)"/>
<circle cx="243.70" cy="155.00" r="1.2" fill="rgba(140,140,235,.24)"/>
<circle cx="243.70" cy="160.30" r="1.2" fill="rgba(140,140,235,.24)"/>
<circle cx="243.70" cy="165.60" r="1.2" fill="rgba(140,140,235,.24)"/>
<circle cx="243.70" cy="170.90" r="1.2" fill="rgba(140,140,235,.24)"/>
<circle cx="243.70" cy="176.20" r="1.2" fill="rgba(140,140,235,.24)"/>
<circle cx="243.70" cy="188.30" r="1.2" fill="rgba(140,140,235,.24)"/>
<circle cx="243.70" cy="193.60" r="1.2" fill="rgba(140,140,235,.24)"/>
<circle cx="243.70" cy="198.90" r="1.2" fill="rgba(140,140,235,.24)"/>
<circle cx="243.70" cy="204.20" r="1.2" fill="rgba(140,140,235,.24)"/>
<circle cx="243.70" cy="209.50" r="1.2" fill="rgba(140,140,235,.24)"/>
<circle cx="243.70" cy="214.80" r="1.2" fill="rgba(140,140,235,.24)"/>
<circle cx="243.70" cy="220.10" r="1.2" fill="rgba(140,140,235,.24)"/>
<circle cx="243.70" cy="225.40" r="1.2" fill="rgba(140,140,235,.24)"/>
<circle cx="243.70" cy="230.70" r="1.2" fill="rgba(140,140,235,.24)"/>
<circle cx="253.70" cy="133.80" r="1.2" fill="rgba(140,140,235,.24)"/>
<circle cx="253.70" cy="139.10" r="1.2" fill="rgba(140,140,235,.24)"/>
<circle cx="253.70" cy="144.40" r="1.2" fill="rgba(140,140,235,.24)"/>
<circle cx="253.70" cy="149.70" r="1.2" fill="rgba(140,140,235,.24)"/>
<circle cx="253.70" cy="155.00" r="1.2" fill="rgba(140,140,235,.24)"/>
<circle cx="253.70" cy="160.30" r="1.2" fill="rgba(140,140,235,.24)"/>
<circle cx="253.70" cy="165.60" r="1.2" fill="rgba(140,140,235,.24)"/>
<circle cx="253.70" cy="170.90" r="1.2" fill="rgba(140,140,235,.24)"/>
<circle cx="253.70" cy="176.20" r="1.2" fill="rgba(140,140,235,.24)"/>
<circle cx="253.70" cy="188.30" r="1.2" fill="rgba(140,140,235,.24)"/>
<circle cx="253.70" cy="193.60" r="1.2" fill="rgba(140,140,235,.24)"/>
<circle cx="253.70" cy="198.90" r="1.2" fill="rgba(140,140,235,.24)"/>
<circle cx="253.70" cy="204.20" r="1.2" fill="rgba(140,140,235,.24)"/>
<circle cx="253.70" cy="209.50" r="1.2" fill="rgba(140,140,235,.24)"/>
<circle cx="253.70" cy="214.80" r="1.2" fill="rgba(140,140,235,.24)"/>
<circle cx="253.70" cy="220.10" r="1.2" fill="rgba(140,140,235,.24)"/>
<circle cx="253.70" cy="225.40" r="1.2" fill="rgba(140,140,235,.24)"/>
<circle cx="253.70" cy="230.70" r="1.2" fill="rgba(140,140,235,.24)"/>
<circle cx="263.70" cy="133.80" r="1.2" fill="rgba(140,140,235,.24)"/>
<circle cx="263.70" cy="139.10" r="1.2" fill="rgba(140,140,235,.24)"/>
<circle cx="263.70" cy="144.40" r="1.2" fill="rgba(140,140,235,.24)"/>
<circle cx="263.70" cy="149.70" r="1.2" fill="rgba(140,140,235,.24)"/>
<circle cx="263.70" cy="155.00" r="1.2" fill="rgba(140,140,235,.24)"/>
<circle cx="263.70" cy="160.30" r="1.2" fill="rgba(140,140,235,.24)"/>
<circle cx="263.70" cy="165.60" r="1.2" fill="rgba(140,140,235,.24)"/>
<circle cx="263.70" cy="170.90" r="1.2" fill="rgba(140,140,235,.24)"/>
<circle cx="263.70" cy="176.20" r="1.2" fill="rgba(140,140,235,.24)"/>
<circle cx="263.70" cy="188.30" r="1.2" fill="rgba(140,140,235,.24)"/>
<circle cx="263.70" cy="193.60" r="1.2" fill="rgba(140,140,235,.24)"/>
<circle cx="263.70" cy="198.90" r="1.2" fill="rgba(140,140,235,.24)"/>
<circle cx="263.70" cy="204.20" r="1.2" fill="rgba(140,140,235,.24)"/>
<circle cx="263.70" cy="209.50" r="1.2" fill="rgba(140,140,235,.24)"/>
<circle cx="263.70" cy="214.80" r="1.2" fill="rgba(140,140,235,.24)"/>
<circle cx="263.70" cy="220.10" r="1.2" fill="rgba(140,140,235,.24)"/>
<circle cx="263.70" cy="225.40" r="1.2" fill="rgba(140,140,235,.24)"/>
<circle cx="263.70" cy="230.70" r="1.2" fill="rgba(140,140,235,.24)"/>
<circle cx="273.70" cy="133.80" r="1.2" fill="rgba(140,140,235,.24)"/>
<circle cx="273.70" cy="139.10" r="1.2" fill="rgba(140,140,235,.24)"/>
<circle cx="273.70" cy="144.40" r="1.2" fill="rgba(140,140,235,.24)"/>
<circle cx="273.70" cy="149.70" r="1.2" fill="rgba(140,140,235,.24)"/>
<circle cx="273.70" cy="155.00" r="1.2" fill="rgba(140,140,235,.24)"/>
<circle cx="273.70" cy="160.30" r="1.2" fill="rgba(140,140,235,.24)"/>
<circle cx="273.70" cy="165.60" r="1.2" fill="rgba(140,140,235,.24)"/>
<circle cx="273.70" cy="170.90" r="1.2" fill="rgba(140,140,235,.24)"/>
<circle cx="273.70" cy="176.20" r="1.2" fill="rgba(140,140,235,.24)"/>
<circle cx="273.70" cy="188.30" r="1.2" fill="rgba(140,140,235,.24)"/>
<circle cx="273.70" cy="193.60" r="1.2" fill="rgba(140,140,235,.24)"/>
<circle cx="273.70" cy="198.90" r="1.2" fill="rgba(140,140,235,.24)"/>
<circle cx="273.70" cy="204.20" r="1.2" fill="rgba(140,140,235,.24)"/>
<circle cx="273.70" cy="209.50" r="1.2" fill="rgba(140,140,235,.24)"/>
<circle cx="273.70" cy="214.80" r="1.2" fill="rgba(140,140,235,.24)"/>
<circle cx="273.70" cy="220.10" r="1.2" fill="rgba(140,140,235,.24)"/>
<circle cx="273.70" cy="225.40" r="1.2" fill="rgba(140,140,235,.24)"/>
<circle cx="273.70" cy="230.70" r="1.2" fill="rgba(140,140,235,.24)"/>
<circle cx="283.70" cy="133.80" r="1.2" fill="rgba(140,140,235,.24)"/>
<circle cx="283.70" cy="139.10" r="1.2" fill="rgba(140,140,235,.24)"/>
<circle cx="283.70" cy="144.40" r="1.2" fill="rgba(140,140,235,.24)"/>
<circle cx="283.70" cy="149.70" r="1.2" fill="rgba(140,140,235,.24)"/>
<circle cx="283.70" cy="155.00" r="1.2" fill="rgba(140,140,235,.24)"/>
<circle cx="283.70" cy="160.30" r="1.2" fill="rgba(140,140,235,.24)"/>
<circle cx="283.70" cy="165.60" r="1.2" fill="rgba(140,140,235,.24)"/>
<circle cx="283.70" cy="170.90" r="1.2" fill="rgba(140,140,235,.24)"/>
<circle cx="283.70" cy="176.20" r="1.2" fill="rgba(140,140,235,.24)"/>
<circle cx="283.70" cy="188.30" r="1.2" fill="rgba(140,140,235,.24)"/>
<circle cx="283.70" cy="193.60" r="1.2" fill="rgba(140,140,235,.24)"/>
<circle cx="283.70" cy="198.90" r="1.2" fill="rgba(140,140,235,.24)"/>
<circle cx="283.70" cy="204.20" r="1.2" fill="rgba(140,140,235,.24)"/>
<circle cx="283.70" cy="209.50" r="1.2" fill="rgba(140,140,235,.24)"/>
<circle cx="283.70" cy="214.80" r="1.2" fill="rgba(140,140,235,.24)"/>
<circle cx="283.70" cy="220.10" r="1.2" fill="rgba(140,140,235,.24)"/>
<circle cx="283.70" cy="225.40" r="1.2" fill="rgba(140,140,235,.24)"/>
<circle cx="283.70" cy="230.70" r="1.2" fill="rgba(140,140,235,.24)"/>
<rect x="233" y="181.3" width="62" height="1.8" fill="#c6c6e2"/>
<rect x="233" y="127" width="1.5" height="108.5" fill="#b4b4da"/>
<rect x="294" y="127" width="1" height="108.5" fill="#b4b4da"/>
<rect x="233" y="234.5" width="62" height="1" fill="#8a8ab8"/>
<rect x="233" y="128" width="62" height="10.5" fill="#000"/>
<rect x="233" y="127" width="62" height="1" fill="#b8b8c0"/>
<rect x="304" y="127" width="62" height="108.5" fill="#0c0b8a"/>
<rect x="314.20" y="127" width="1" height="108.5" fill="rgba(120,120,230,.13)"/>
<rect x="324.20" y="127" width="1" height="108.5" fill="rgba(120,120,230,.13)"/>
<rect x="334.20" y="127" width="1" height="108.5" fill="rgba(120,120,230,.13)"/>
<rect x="344.20" y="127" width="1" height="108.5" fill="rgba(120,120,230,.13)"/>
<rect x="354.20" y="127" width="1" height="108.5" fill="rgba(120,120,230,.13)"/>
<rect x="304" y="133.30" width="62" height="1" fill="rgba(120,120,230,.11)"/>
<rect x="304" y="138.60" width="62" height="1" fill="rgba(120,120,230,.11)"/>
<rect x="304" y="143.90" width="62" height="1" fill="rgba(120,120,230,.11)"/>
<rect x="304" y="149.20" width="62" height="1" fill="rgba(120,120,230,.11)"/>
<rect x="304" y="154.50" width="62" height="1" fill="rgba(120,120,230,.11)"/>
<rect x="304" y="159.80" width="62" height="1" fill="rgba(120,120,230,.11)"/>
<rect x="304" y="165.10" width="62" height="1" fill="rgba(120,120,230,.11)"/>
<rect x="304" y="170.40" width="62" height="1" fill="rgba(120,120,230,.11)"/>
<rect x="304" y="175.70" width="62" height="1" fill="rgba(120,120,230,.11)"/>
<rect x="304" y="187.80" width="62" height="1" fill="rgba(120,120,230,.11)"/>
<rect x="304" y="193.10" width="62" height="1" fill="rgba(120,120,230,.11)"/>
<rect x="304" y="198.40" width="62" height="1" fill="rgba(120,120,230,.11)"/>
<rect x="304" y="203.70" width="62" height="1" fill="rgba(120,120,230,.11)"/>
<rect x="304" y="209.00" width="62" height="1" fill="rgba(120,120,230,.11)"/>
<rect x="304" y="214.30" width="62" height="1" fill="rgba(120,120,230,.11)"/>
<rect x="304" y="219.60" width="62" height="1" fill="rgba(120,120,230,.11)"/>
<rect x="304" y="224.90" width="62" height="1" fill="rgba(120,120,230,.11)"/>
<rect x="304" y="230.20" width="62" height="1" fill="rgba(120,120,230,.11)"/>
<circle cx="314.70" cy="133.80" r="1.2" fill="rgba(140,140,235,.24)"/>
<circle cx="314.70" cy="139.10" r="1.2" fill="rgba(140,140,235,.24)"/>
<circle cx="314.70" cy="144.40" r="1.2" fill="rgba(140,140,235,.24)"/>
<circle cx="314.70" cy="149.70" r="1.2" fill="rgba(140,140,235,.24)"/>
<circle cx="314.70" cy="155.00" r="1.2" fill="rgba(140,140,235,.24)"/>
<circle cx="314.70" cy="160.30" r="1.2" fill="rgba(140,140,235,.24)"/>
<circle cx="314.70" cy="165.60" r="1.2" fill="rgba(140,140,235,.24)"/>
<circle cx="314.70" cy="170.90" r="1.2" fill="rgba(140,140,235,.24)"/>
<circle cx="314.70" cy="176.20" r="1.2" fill="rgba(140,140,235,.24)"/>
<circle cx="314.70" cy="188.30" r="1.2" fill="rgba(140,140,235,.24)"/>
<circle cx="314.70" cy="193.60" r="1.2" fill="rgba(140,140,235,.24)"/>
<circle cx="314.70" cy="198.90" r="1.2" fill="rgba(140,140,235,.24)"/>
<circle cx="314.70" cy="204.20" r="1.2" fill="rgba(140,140,235,.24)"/>
<circle cx="314.70" cy="209.50" r="1.2" fill="rgba(140,140,235,.24)"/>
<circle cx="314.70" cy="214.80" r="1.2" fill="rgba(140,140,235,.24)"/>
<circle cx="314.70" cy="220.10" r="1.2" fill="rgba(140,140,235,.24)"/>
<circle cx="314.70" cy="225.40" r="1.2" fill="rgba(140,140,235,.24)"/>
<circle cx="314.70" cy="230.70" r="1.2" fill="rgba(140,140,235,.24)"/>
<circle cx="324.70" cy="133.80" r="1.2" fill="rgba(140,140,235,.24)"/>
<circle cx="324.70" cy="139.10" r="1.2" fill="rgba(140,140,235,.24)"/>
<circle cx="324.70" cy="144.40" r="1.2" fill="rgba(140,140,235,.24)"/>
<circle cx="324.70" cy="149.70" r="1.2" fill="rgba(140,140,235,.24)"/>
<circle cx="324.70" cy="155.00" r="1.2" fill="rgba(140,140,235,.24)"/>
<circle cx="324.70" cy="160.30" r="1.2" fill="rgba(140,140,235,.24)"/>
<circle cx="324.70" cy="165.60" r="1.2" fill="rgba(140,140,235,.24)"/>
<circle cx="324.70" cy="170.90" r="1.2" fill="rgba(140,140,235,.24)"/>
<circle cx="324.70" cy="176.20" r="1.2" fill="rgba(140,140,235,.24)"/>
<circle cx="324.70" cy="188.30" r="1.2" fill="rgba(140,140,235,.24)"/>
<circle cx="324.70" cy="193.60" r="1.2" fill="rgba(140,140,235,.24)"/>
<circle cx="324.70" cy="198.90" r="1.2" fill="rgba(140,140,235,.24)"/>
<circle cx="324.70" cy="204.20" r="1.2" fill="rgba(140,140,235,.24)"/>
<circle cx="324.70" cy="209.50" r="1.2" fill="rgba(140,140,235,.24)"/>
<circle cx="324.70" cy="214.80" r="1.2" fill="rgba(140,140,235,.24)"/>
<circle cx="324.70" cy="220.10" r="1.2" fill="rgba(140,140,235,.24)"/>
<circle cx="324.70" cy="225.40" r="1.2" fill="rgba(140,140,235,.24)"/>
<circle cx="324.70" cy="230.70" r="1.2" fill="rgba(140,140,235,.24)"/>
<circle cx="334.70" cy="133.80" r="1.2" fill="rgba(140,140,235,.24)"/>
<circle cx="334.70" cy="139.10" r="1.2" fill="rgba(140,140,235,.24)"/>
<circle cx="334.70" cy="144.40" r="1.2" fill="rgba(140,140,235,.24)"/>
<circle cx="334.70" cy="149.70" r="1.2" fill="rgba(140,140,235,.24)"/>
<circle cx="334.70" cy="155.00" r="1.2" fill="rgba(140,140,235,.24)"/>
<circle cx="334.70" cy="160.30" r="1.2" fill="rgba(140,140,235,.24)"/>
<circle cx="334.70" cy="165.60" r="1.2" fill="rgba(140,140,235,.24)"/>
<circle cx="334.70" cy="170.90" r="1.2" fill="rgba(140,140,235,.24)"/>
<circle cx="334.70" cy="176.20" r="1.2" fill="rgba(140,140,235,.24)"/>
<circle cx="334.70" cy="188.30" r="1.2" fill="rgba(140,140,235,.24)"/>
<circle cx="334.70" cy="193.60" r="1.2" fill="rgba(140,140,235,.24)"/>
<circle cx="334.70" cy="198.90" r="1.2" fill="rgba(140,140,235,.24)"/>
<circle cx="334.70" cy="204.20" r="1.2" fill="rgba(140,140,235,.24)"/>
<circle cx="334.70" cy="209.50" r="1.2" fill="rgba(140,140,235,.24)"/>
<circle cx="334.70" cy="214.80" r="1.2" fill="rgba(140,140,235,.24)"/>
<circle cx="334.70" cy="220.10" r="1.2" fill="rgba(140,140,235,.24)"/>
<circle cx="334.70" cy="225.40" r="1.2" fill="rgba(140,140,235,.24)"/>
<circle cx="334.70" cy="230.70" r="1.2" fill="rgba(140,140,235,.24)"/>
<circle cx="344.70" cy="133.80" r="1.2" fill="rgba(140,140,235,.24)"/>
<circle cx="344.70" cy="139.10" r="1.2" fill="rgba(140,140,235,.24)"/>
<circle cx="344.70" cy="144.40" r="1.2" fill="rgba(140,140,235,.24)"/>
<circle cx="344.70" cy="149.70" r="1.2" fill="rgba(140,140,235,.24)"/>
<circle cx="344.70" cy="155.00" r="1.2" fill="rgba(140,140,235,.24)"/>
<circle cx="344.70" cy="160.30" r="1.2" fill="rgba(140,140,235,.24)"/>
<circle cx="344.70" cy="165.60" r="1.2" fill="rgba(140,140,235,.24)"/>
<circle cx="344.70" cy="170.90" r="1.2" fill="rgba(140,140,235,.24)"/>
<circle cx="344.70" cy="176.20" r="1.2" fill="rgba(140,140,235,.24)"/>
<circle cx="344.70" cy="188.30" r="1.2" fill="rgba(140,140,235,.24)"/>
<circle cx="344.70" cy="193.60" r="1.2" fill="rgba(140,140,235,.24)"/>
<circle cx="344.70" cy="198.90" r="1.2" fill="rgba(140,140,235,.24)"/>
<circle cx="344.70" cy="204.20" r="1.2" fill="rgba(140,140,235,.24)"/>
<circle cx="344.70" cy="209.50" r="1.2" fill="rgba(140,140,235,.24)"/>
<circle cx="344.70" cy="214.80" r="1.2" fill="rgba(140,140,235,.24)"/>
<circle cx="344.70" cy="220.10" r="1.2" fill="rgba(140,140,235,.24)"/>
<circle cx="344.70" cy="225.40" r="1.2" fill="rgba(140,140,235,.24)"/>
<circle cx="344.70" cy="230.70" r="1.2" fill="rgba(140,140,235,.24)"/>
<circle cx="354.70" cy="133.80" r="1.2" fill="rgba(140,140,235,.24)"/>
<circle cx="354.70" cy="139.10" r="1.2" fill="rgba(140,140,235,.24)"/>
<circle cx="354.70" cy="144.40" r="1.2" fill="rgba(140,140,235,.24)"/>
<circle cx="354.70" cy="149.70" r="1.2" fill="rgba(140,140,235,.24)"/>
<circle cx="354.70" cy="155.00" r="1.2" fill="rgba(140,140,235,.24)"/>
<circle cx="354.70" cy="160.30" r="1.2" fill="rgba(140,140,235,.24)"/>
<circle cx="354.70" cy="165.60" r="1.2" fill="rgba(140,140,235,.24)"/>
<circle cx="354.70" cy="170.90" r="1.2" fill="rgba(140,140,235,.24)"/>
<circle cx="354.70" cy="176.20" r="1.2" fill="rgba(140,140,235,.24)"/>
<circle cx="354.70" cy="188.30" r="1.2" fill="rgba(140,140,235,.24)"/>
<circle cx="354.70" cy="193.60" r="1.2" fill="rgba(140,140,235,.24)"/>
<circle cx="354.70" cy="198.90" r="1.2" fill="rgba(140,140,235,.24)"/>
<circle cx="354.70" cy="204.20" r="1.2" fill="rgba(140,140,235,.24)"/>
<circle cx="354.70" cy="209.50" r="1.2" fill="rgba(140,140,235,.24)"/>
<circle cx="354.70" cy="214.80" r="1.2" fill="rgba(140,140,235,.24)"/>
<circle cx="354.70" cy="220.10" r="1.2" fill="rgba(140,140,235,.24)"/>
<circle cx="354.70" cy="225.40" r="1.2" fill="rgba(140,140,235,.24)"/>
<circle cx="354.70" cy="230.70" r="1.2" fill="rgba(140,140,235,.24)"/>
<rect x="304" y="181.3" width="62" height="1.8" fill="#c6c6e2"/>
<rect x="304" y="127" width="1.5" height="108.5" fill="#b4b4da"/>
<rect x="365" y="127" width="1" height="108.5" fill="#b4b4da"/>
<rect x="304" y="234.5" width="62" height="1" fill="#8a8ab8"/>
<rect x="304" y="128" width="62" height="16.5" fill="#000"/>
<rect x="304" y="127" width="62" height="1" fill="#b8b8c0"/>
</svg>
<div class="a lbl" style="left:27.5px;top:246.9px">遮短边<span class="dg">25%</span></div>
<div class="a lbl" style="left:98.8px;top:246.9px">遮短边<span class="dg">50%</span></div>
<div class="a lbl" style="left:168.6px;top:246.9px">遮短边<span class="dg">75%</span></div>
<div class="a lbl" style="left:237.5px;top:246.9px">遮短边<span class="dg">100%</span></div>
<div class="a lbl" style="left:308.8px;top:246.9px">遮短边<span class="dg">150%</span></div>

<!-- bottom panels -->
<svg class="a" style="left:0;top:0" width="400" height="453">
<rect x="22.3" y="290" width="61.5" height="111" fill="#2219b4"/>
<rect x="24.50" y="290" width="1.2" height="111" fill="rgba(80,70,210,.3)"/>
<rect x="27.95" y="290" width="1.2" height="111" fill="rgba(80,70,210,.3)"/>
<rect x="31.40" y="290" width="1.2" height="111" fill="rgba(80,70,210,.3)"/>
<rect x="34.85" y="290" width="1.2" height="111" fill="rgba(80,70,210,.3)"/>
<rect x="38.30" y="290" width="1.2" height="111" fill="rgba(80,70,210,.3)"/>
<rect x="41.75" y="290" width="1.2" height="111" fill="rgba(80,70,210,.3)"/>
<rect x="45.20" y="290" width="1.2" height="111" fill="rgba(80,70,210,.3)"/>
<rect x="48.65" y="290" width="1.2" height="111" fill="rgba(80,70,210,.3)"/>
<rect x="52.10" y="290" width="1.2" height="111" fill="rgba(80,70,210,.3)"/>
<rect x="55.55" y="290" width="1.2" height="111" fill="rgba(80,70,210,.3)"/>
<rect x="59.00" y="290" width="1.2" height="111" fill="rgba(80,70,210,.3)"/>
<rect x="62.45" y="290" width="1.2" height="111" fill="rgba(80,70,210,.3)"/>
<rect x="65.90" y="290" width="1.2" height="111" fill="rgba(80,70,210,.3)"/>
<rect x="69.35" y="290" width="1.2" height="111" fill="rgba(80,70,210,.3)"/>
<rect x="72.80" y="290" width="1.2" height="111" fill="rgba(80,70,210,.3)"/>
<rect x="76.25" y="290" width="1.2" height="111" fill="rgba(80,70,210,.3)"/>
<rect x="79.70" y="290" width="1.2" height="111" fill="rgba(80,70,210,.3)"/>
<rect x="83.15" y="290" width="1.2" height="111" fill="rgba(80,70,210,.3)"/>
<rect x="32.60" y="290" width="1" height="111" fill="rgba(140,140,255,.18)"/>
<rect x="42.95" y="290" width="1" height="111" fill="rgba(140,140,255,.18)"/>
<rect x="53.30" y="290" width="1" height="111" fill="rgba(140,140,255,.18)"/>
<rect x="63.65" y="290" width="1" height="111" fill="rgba(140,140,255,.18)"/>
<rect x="74.00" y="290" width="1" height="111" fill="rgba(140,140,255,.18)"/>
<rect x="22.3" y="301.40" width="61.5" height="1" fill="rgba(150,140,250,.55)"/>
<rect x="22.3" y="312.50" width="61.5" height="1" fill="rgba(150,140,250,.55)"/>
<rect x="22.3" y="323.60" width="61.5" height="1" fill="rgba(150,140,250,.55)"/>
<rect x="22.3" y="334.70" width="61.5" height="1" fill="rgba(150,140,250,.55)"/>
<rect x="22.3" y="345.80" width="61.5" height="1" fill="rgba(150,140,250,.55)"/>
<rect x="22.3" y="356.90" width="61.5" height="1" fill="rgba(150,140,250,.55)"/>
<rect x="22.3" y="368.00" width="61.5" height="1" fill="rgba(150,140,250,.55)"/>
<rect x="22.3" y="379.10" width="61.5" height="1" fill="rgba(150,140,250,.55)"/>
<rect x="22.3" y="390.20" width="61.5" height="1" fill="rgba(150,140,250,.55)"/>
<circle cx="33.10" cy="301.90" r="1.2" fill="rgba(200,200,255,.7)"/>
<circle cx="33.10" cy="313.00" r="1.2" fill="rgba(200,200,255,.7)"/>
<circle cx="33.10" cy="324.10" r="1.2" fill="rgba(200,200,255,.7)"/>
<circle cx="33.10" cy="335.20" r="1.2" fill="rgba(200,200,255,.7)"/>
<circle cx="33.10" cy="346.30" r="1.2" fill="rgba(200,200,255,.7)"/>
<circle cx="33.10" cy="357.40" r="1.2" fill="rgba(200,200,255,.7)"/>
<circle cx="33.10" cy="368.50" r="1.2" fill="rgba(200,200,255,.7)"/>
<circle cx="33.10" cy="379.60" r="1.2" fill="rgba(200,200,255,.7)"/>
<circle cx="33.10" cy="390.70" r="1.2" fill="rgba(200,200,255,.7)"/>
<circle cx="43.45" cy="301.90" r="1.2" fill="rgba(200,200,255,.7)"/>
<circle cx="43.45" cy="313.00" r="1.2" fill="rgba(200,200,255,.7)"/>
<circle cx="43.45" cy="324.10" r="1.2" fill="rgba(200,200,255,.7)"/>
<circle cx="43.45" cy="335.20" r="1.2" fill="rgba(200,200,255,.7)"/>
<circle cx="43.45" cy="346.30" r="1.2" fill="rgba(200,200,255,.7)"/>
<circle cx="43.45" cy="357.40" r="1.2" fill="rgba(200,200,255,.7)"/>
<circle cx="43.45" cy="368.50" r="1.2" fill="rgba(200,200,255,.7)"/>
<circle cx="43.45" cy="379.60" r="1.2" fill="rgba(200,200,255,.7)"/>
<circle cx="43.45" cy="390.70" r="1.2" fill="rgba(200,200,255,.7)"/>
<circle cx="53.80" cy="301.90" r="1.2" fill="rgba(200,200,255,.7)"/>
<circle cx="53.80" cy="313.00" r="1.2" fill="rgba(200,200,255,.7)"/>
<circle cx="53.80" cy="324.10" r="1.2" fill="rgba(200,200,255,.7)"/>
<circle cx="53.80" cy="335.20" r="1.2" fill="rgba(200,200,255,.7)"/>
<circle cx="53.80" cy="346.30" r="1.2" fill="rgba(200,200,255,.7)"/>
<circle cx="53.80" cy="357.40" r="1.2" fill="rgba(200,200,255,.7)"/>
<circle cx="53.80" cy="368.50" r="1.2" fill="rgba(200,200,255,.7)"/>
<circle cx="53.80" cy="379.60" r="1.2" fill="rgba(200,200,255,.7)"/>
<circle cx="53.80" cy="390.70" r="1.2" fill="rgba(200,200,255,.7)"/>
<circle cx="64.15" cy="301.90" r="1.2" fill="rgba(200,200,255,.7)"/>
<circle cx="64.15" cy="313.00" r="1.2" fill="rgba(200,200,255,.7)"/>
<circle cx="64.15" cy="324.10" r="1.2" fill="rgba(200,200,255,.7)"/>
<circle cx="64.15" cy="335.20" r="1.2" fill="rgba(200,200,255,.7)"/>
<circle cx="64.15" cy="346.30" r="1.2" fill="rgba(200,200,255,.7)"/>
<circle cx="64.15" cy="357.40" r="1.2" fill="rgba(200,200,255,.7)"/>
<circle cx="64.15" cy="368.50" r="1.2" fill="rgba(200,200,255,.7)"/>
<circle cx="64.15" cy="379.60" r="1.2" fill="rgba(200,200,255,.7)"/>
<circle cx="64.15" cy="390.70" r="1.2" fill="rgba(200,200,255,.7)"/>
<circle cx="74.50" cy="301.90" r="1.2" fill="rgba(200,200,255,.7)"/>
<circle cx="74.50" cy="313.00" r="1.2" fill="rgba(200,200,255,.7)"/>
<circle cx="74.50" cy="324.10" r="1.2" fill="rgba(200,200,255,.7)"/>
<circle cx="74.50" cy="335.20" r="1.2" fill="rgba(200,200,255,.7)"/>
<circle cx="74.50" cy="346.30" r="1.2" fill="rgba(200,200,255,.7)"/>
<circle cx="74.50" cy="357.40" r="1.2" fill="rgba(200,200,255,.7)"/>
<circle cx="74.50" cy="368.50" r="1.2" fill="rgba(200,200,255,.7)"/>
<circle cx="74.50" cy="379.60" r="1.2" fill="rgba(200,200,255,.7)"/>
<circle cx="74.50" cy="390.70" r="1.2" fill="rgba(200,200,255,.7)"/>
<rect x="22.3" y="290" width="1" height="111" fill="#c4c4ea"/>
<rect x="82.8" y="290" width="1" height="111" fill="#c4c4ea"/>
<rect x="22.3" y="290" width="61.5" height="6" fill="#000"/>
<rect x="93" y="290" width="61.5" height="111" fill="#2219b4"/>
<rect x="95.20" y="290" width="1.2" height="111" fill="rgba(80,70,210,.3)"/>
<rect x="98.65" y="290" width="1.2" height="111" fill="rgba(80,70,210,.3)"/>
<rect x="102.10" y="290" width="1.2" height="111" fill="rgba(80,70,210,.3)"/>
<rect x="105.55" y="290" width="1.2" height="111" fill="rgba(80,70,210,.3)"/>
<rect x="109.00" y="290" width="1.2" height="111" fill="rgba(80,70,210,.3)"/>
<rect x="112.45" y="290" width="1.2" height="111" fill="rgba(80,70,210,.3)"/>
<rect x="115.90" y="290" width="1.2" height="111" fill="rgba(80,70,210,.3)"/>
<rect x="119.35" y="290" width="1.2" height="111" fill="rgba(80,70,210,.3)"/>
<rect x="122.80" y="290" width="1.2" height="111" fill="rgba(80,70,210,.3)"/>
<rect x="126.25" y="290" width="1.2" height="111" fill="rgba(80,70,210,.3)"/>
<rect x="129.70" y="290" width="1.2" height="111" fill="rgba(80,70,210,.3)"/>
<rect x="133.15" y="290" width="1.2" height="111" fill="rgba(80,70,210,.3)"/>
<rect x="136.60" y="290" width="1.2" height="111" fill="rgba(80,70,210,.3)"/>
<rect x="140.05" y="290" width="1.2" height="111" fill="rgba(80,70,210,.3)"/>
<rect x="143.50" y="290" width="1.2" height="111" fill="rgba(80,70,210,.3)"/>
<rect x="146.95" y="290" width="1.2" height="111" fill="rgba(80,70,210,.3)"/>
<rect x="150.40" y="290" width="1.2" height="111" fill="rgba(80,70,210,.3)"/>
<rect x="153.85" y="290" width="1.2" height="111" fill="rgba(80,70,210,.3)"/>
<rect x="103.30" y="290" width="1" height="111" fill="rgba(140,140,255,.18)"/>
<rect x="113.65" y="290" width="1" height="111" fill="rgba(140,140,255,.18)"/>
<rect x="124.00" y="290" width="1" height="111" fill="rgba(140,140,255,.18)"/>
<rect x="134.35" y="290" width="1" height="111" fill="rgba(140,140,255,.18)"/>
<rect x="144.70" y="290" width="1" height="111" fill="rgba(140,140,255,.18)"/>
<rect x="93" y="301.40" width="61.5" height="1" fill="rgba(150,140,250,.55)"/>
<rect x="93" y="312.50" width="61.5" height="1" fill="rgba(150,140,250,.55)"/>
<rect x="93" y="323.60" width="61.5" height="1" fill="rgba(150,140,250,.55)"/>
<rect x="93" y="334.70" width="61.5" height="1" fill="rgba(150,140,250,.55)"/>
<rect x="93" y="345.80" width="61.5" height="1" fill="rgba(150,140,250,.55)"/>
<rect x="93" y="356.90" width="61.5" height="1" fill="rgba(150,140,250,.55)"/>
<rect x="93" y="368.00" width="61.5" height="1" fill="rgba(150,140,250,.55)"/>
<rect x="93" y="379.10" width="61.5" height="1" fill="rgba(150,140,250,.55)"/>
<rect x="93" y="390.20" width="61.5" height="1" fill="rgba(150,140,250,.55)"/>
<circle cx="103.80" cy="301.90" r="1.2" fill="rgba(200,200,255,.7)"/>
<circle cx="103.80" cy="313.00" r="1.2" fill="rgba(200,200,255,.7)"/>
<circle cx="103.80" cy="324.10" r="1.2" fill="rgba(200,200,255,.7)"/>
<circle cx="103.80" cy="335.20" r="1.2" fill="rgba(200,200,255,.7)"/>
<circle cx="103.80" cy="346.30" r="1.2" fill="rgba(200,200,255,.7)"/>
<circle cx="103.80" cy="357.40" r="1.2" fill="rgba(200,200,255,.7)"/>
<circle cx="103.80" cy="368.50" r="1.2" fill="rgba(200,200,255,.7)"/>
<circle cx="103.80" cy="379.60" r="1.2" fill="rgba(200,200,255,.7)"/>
<circle cx="103.80" cy="390.70" r="1.2" fill="rgba(200,200,255,.7)"/>
<circle cx="114.15" cy="301.90" r="1.2" fill="rgba(200,200,255,.7)"/>
<circle cx="114.15" cy="313.00" r="1.2" fill="rgba(200,200,255,.7)"/>
<circle cx="114.15" cy="324.10" r="1.2" fill="rgba(200,200,255,.7)"/>
<circle cx="114.15" cy="335.20" r="1.2" fill="rgba(200,200,255,.7)"/>
<circle cx="114.15" cy="346.30" r="1.2" fill="rgba(200,200,255,.7)"/>
<circle cx="114.15" cy="357.40" r="1.2" fill="rgba(200,200,255,.7)"/>
<circle cx="114.15" cy="368.50" r="1.2" fill="rgba(200,200,255,.7)"/>
<circle cx="114.15" cy="379.60" r="1.2" fill="rgba(200,200,255,.7)"/>
<circle cx="114.15" cy="390.70" r="1.2" fill="rgba(200,200,255,.7)"/>
<circle cx="124.50" cy="301.90" r="1.2" fill="rgba(200,200,255,.7)"/>
<circle cx="124.50" cy="313.00" r="1.2" fill="rgba(200,200,255,.7)"/>
<circle cx="124.50" cy="324.10" r="1.2" fill="rgba(200,200,255,.7)"/>
<circle cx="124.50" cy="335.20" r="1.2" fill="rgba(200,200,255,.7)"/>
<circle cx="124.50" cy="346.30" r="1.2" fill="rgba(200,200,255,.7)"/>
<circle cx="124.50" cy="357.40" r="1.2" fill="rgba(200,200,255,.7)"/>
<circle cx="124.50" cy="368.50" r="1.2" fill="rgba(200,200,255,.7)"/>
<circle cx="124.50" cy="379.60" r="1.2" fill="rgba(200,200,255,.7)"/>
<circle cx="124.50" cy="390.70" r="1.2" fill="rgba(200,200,255,.7)"/>
<circle cx="134.85" cy="301.90" r="1.2" fill="rgba(200,200,255,.7)"/>
<circle cx="134.85" cy="313.00" r="1.2" fill="rgba(200,200,255,.7)"/>
<circle cx="134.85" cy="324.10" r="1.2" fill="rgba(200,200,255,.7)"/>
<circle cx="134.85" cy="335.20" r="1.2" fill="rgba(200,200,255,.7)"/>
<circle cx="134.85" cy="346.30" r="1.2" fill="rgba(200,200,255,.7)"/>
<circle cx="134.85" cy="357.40" r="1.2" fill="rgba(200,200,255,.7)"/>
<circle cx="134.85" cy="368.50" r="1.2" fill="rgba(200,200,255,.7)"/>
<circle cx="134.85" cy="379.60" r="1.2" fill="rgba(200,200,255,.7)"/>
<circle cx="134.85" cy="390.70" r="1.2" fill="rgba(200,200,255,.7)"/>
<circle cx="145.20" cy="301.90" r="1.2" fill="rgba(200,200,255,.7)"/>
<circle cx="145.20" cy="313.00" r="1.2" fill="rgba(200,200,255,.7)"/>
<circle cx="145.20" cy="324.10" r="1.2" fill="rgba(200,200,255,.7)"/>
<circle cx="145.20" cy="335.20" r="1.2" fill="rgba(200,200,255,.7)"/>
<circle cx="145.20" cy="346.30" r="1.2" fill="rgba(200,200,255,.7)"/>
<circle cx="145.20" cy="357.40" r="1.2" fill="rgba(200,200,255,.7)"/>
<circle cx="145.20" cy="368.50" r="1.2" fill="rgba(200,200,255,.7)"/>
<circle cx="145.20" cy="379.60" r="1.2" fill="rgba(200,200,255,.7)"/>
<circle cx="145.20" cy="390.70" r="1.2" fill="rgba(200,200,255,.7)"/>
<rect x="93" y="290" width="1" height="111" fill="#c4c4ea"/>
<rect x="153.5" y="290" width="1" height="111" fill="#c4c4ea"/>
<rect x="93" y="290" width="61.5" height="7" fill="#000"/>
<rect x="164" y="290" width="61.5" height="111" fill="#2219b4"/>
<rect x="166.20" y="290" width="1.2" height="111" fill="rgba(80,70,210,.3)"/>
<rect x="169.65" y="290" width="1.2" height="111" fill="rgba(80,70,210,.3)"/>
<rect x="173.10" y="290" width="1.2" height="111" fill="rgba(80,70,210,.3)"/>
<rect x="176.55" y="290" width="1.2" height="111" fill="rgba(80,70,210,.3)"/>
<rect x="180.00" y="290" width="1.2" height="111" fill="rgba(80,70,210,.3)"/>
<rect x="183.45" y="290" width="1.2" height="111" fill="rgba(80,70,210,.3)"/>
<rect x="186.90" y="290" width="1.2" height="111" fill="rgba(80,70,210,.3)"/>
<rect x="190.35" y="290" width="1.2" height="111" fill="rgba(80,70,210,.3)"/>
<rect x="193.80" y="290" width="1.2" height="111" fill="rgba(80,70,210,.3)"/>
<rect x="197.25" y="290" width="1.2" height="111" fill="rgba(80,70,210,.3)"/>
<rect x="200.70" y="290" width="1.2" height="111" fill="rgba(80,70,210,.3)"/>
<rect x="204.15" y="290" width="1.2" height="111" fill="rgba(80,70,210,.3)"/>
<rect x="207.60" y="290" width="1.2" height="111" fill="rgba(80,70,210,.3)"/>
<rect x="211.05" y="290" width="1.2" height="111" fill="rgba(80,70,210,.3)"/>
<rect x="214.50" y="290" width="1.2" height="111" fill="rgba(80,70,210,.3)"/>
<rect x="217.95" y="290" width="1.2" height="111" fill="rgba(80,70,210,.3)"/>
<rect x="221.40" y="290" width="1.2" height="111" fill="rgba(80,70,210,.3)"/>
<rect x="224.85" y="290" width="1.2" height="111" fill="rgba(80,70,210,.3)"/>
<rect x="174.30" y="290" width="1" height="111" fill="rgba(140,140,255,.18)"/>
<rect x="184.65" y="290" width="1" height="111" fill="rgba(140,140,255,.18)"/>
<rect x="195.00" y="290" width="1" height="111" fill="rgba(140,140,255,.18)"/>
<rect x="205.35" y="290" width="1" height="111" fill="rgba(140,140,255,.18)"/>
<rect x="215.70" y="290" width="1" height="111" fill="rgba(140,140,255,.18)"/>
<rect x="164" y="301.40" width="61.5" height="1" fill="rgba(150,140,250,.55)"/>
<rect x="164" y="312.50" width="61.5" height="1" fill="rgba(150,140,250,.55)"/>
<rect x="164" y="323.60" width="61.5" height="1" fill="rgba(150,140,250,.55)"/>
<rect x="164" y="334.70" width="61.5" height="1" fill="rgba(150,140,250,.55)"/>
<rect x="164" y="345.80" width="61.5" height="1" fill="rgba(150,140,250,.55)"/>
<rect x="164" y="356.90" width="61.5" height="1" fill="rgba(150,140,250,.55)"/>
<rect x="164" y="368.00" width="61.5" height="1" fill="rgba(150,140,250,.55)"/>
<rect x="164" y="379.10" width="61.5" height="1" fill="rgba(150,140,250,.55)"/>
<rect x="164" y="390.20" width="61.5" height="1" fill="rgba(150,140,250,.55)"/>
<circle cx="174.80" cy="301.90" r="1.2" fill="rgba(200,200,255,.7)"/>
<circle cx="174.80" cy="313.00" r="1.2" fill="rgba(200,200,255,.7)"/>
<circle cx="174.80" cy="324.10" r="1.2" fill="rgba(200,200,255,.7)"/>
<circle cx="174.80" cy="335.20" r="1.2" fill="rgba(200,200,255,.7)"/>
<circle cx="174.80" cy="346.30" r="1.2" fill="rgba(200,200,255,.7)"/>
<circle cx="174.80" cy="357.40" r="1.2" fill="rgba(200,200,255,.7)"/>
<circle cx="174.80" cy="368.50" r="1.2" fill="rgba(200,200,255,.7)"/>
<circle cx="174.80" cy="379.60" r="1.2" fill="rgba(200,200,255,.7)"/>
<circle cx="174.80" cy="390.70" r="1.2" fill="rgba(200,200,255,.7)"/>
<circle cx="185.15" cy="301.90" r="1.2" fill="rgba(200,200,255,.7)"/>
<circle cx="185.15" cy="313.00" r="1.2" fill="rgba(200,200,255,.7)"/>
<circle cx="185.15" cy="324.10" r="1.2" fill="rgba(200,200,255,.7)"/>
<circle cx="185.15" cy="335.20" r="1.2" fill="rgba(200,200,255,.7)"/>
<circle cx="185.15" cy="346.30" r="1.2" fill="rgba(200,200,255,.7)"/>
<circle cx="185.15" cy="357.40" r="1.2" fill="rgba(200,200,255,.7)"/>
<circle cx="185.15" cy="368.50" r="1.2" fill="rgba(200,200,255,.7)"/>
<circle cx="185.15" cy="379.60" r="1.2" fill="rgba(200,200,255,.7)"/>
<circle cx="185.15" cy="390.70" r="1.2" fill="rgba(200,200,255,.7)"/>
<circle cx="195.50" cy="301.90" r="1.2" fill="rgba(200,200,255,.7)"/>
<circle cx="195.50" cy="313.00" r="1.2" fill="rgba(200,200,255,.7)"/>
<circle cx="195.50" cy="324.10" r="1.2" fill="rgba(200,200,255,.7)"/>
<circle cx="195.50" cy="335.20" r="1.2" fill="rgba(200,200,255,.7)"/>
<circle cx="195.50" cy="346.30" r="1.2" fill="rgba(200,200,255,.7)"/>
<circle cx="195.50" cy="357.40" r="1.2" fill="rgba(200,200,255,.7)"/>
<circle cx="195.50" cy="368.50" r="1.2" fill="rgba(200,200,255,.7)"/>
<circle cx="195.50" cy="379.60" r="1.2" fill="rgba(200,200,255,.7)"/>
<circle cx="195.50" cy="390.70" r="1.2" fill="rgba(200,200,255,.7)"/>
<circle cx="205.85" cy="301.90" r="1.2" fill="rgba(200,200,255,.7)"/>
<circle cx="205.85" cy="313.00" r="1.2" fill="rgba(200,200,255,.7)"/>
<circle cx="205.85" cy="324.10" r="1.2" fill="rgba(200,200,255,.7)"/>
<circle cx="205.85" cy="335.20" r="1.2" fill="rgba(200,200,255,.7)"/>
<circle cx="205.85" cy="346.30" r="1.2" fill="rgba(200,200,255,.7)"/>
<circle cx="205.85" cy="357.40" r="1.2" fill="rgba(200,200,255,.7)"/>
<circle cx="205.85" cy="368.50" r="1.2" fill="rgba(200,200,255,.7)"/>
<circle cx="205.85" cy="379.60" r="1.2" fill="rgba(200,200,255,.7)"/>
<circle cx="205.85" cy="390.70" r="1.2" fill="rgba(200,200,255,.7)"/>
<circle cx="216.20" cy="301.90" r="1.2" fill="rgba(200,200,255,.7)"/>
<circle cx="216.20" cy="313.00" r="1.2" fill="rgba(200,200,255,.7)"/>
<circle cx="216.20" cy="324.10" r="1.2" fill="rgba(200,200,255,.7)"/>
<circle cx="216.20" cy="335.20" r="1.2" fill="rgba(200,200,255,.7)"/>
<circle cx="216.20" cy="346.30" r="1.2" fill="rgba(200,200,255,.7)"/>
<circle cx="216.20" cy="357.40" r="1.2" fill="rgba(200,200,255,.7)"/>
<circle cx="216.20" cy="368.50" r="1.2" fill="rgba(200,200,255,.7)"/>
<circle cx="216.20" cy="379.60" r="1.2" fill="rgba(200,200,255,.7)"/>
<circle cx="216.20" cy="390.70" r="1.2" fill="rgba(200,200,255,.7)"/>
<rect x="164" y="290" width="1" height="111" fill="#c4c4ea"/>
<rect x="224.5" y="290" width="1" height="111" fill="#c4c4ea"/>
<rect x="164" y="290" width="61.5" height="8" fill="#000"/>
<rect x="234.4" y="290" width="61.5" height="111" fill="#2219b4"/>
<rect x="236.60" y="290" width="1.2" height="111" fill="rgba(80,70,210,.3)"/>
<rect x="240.05" y="290" width="1.2" height="111" fill="rgba(80,70,210,.3)"/>
<rect x="243.50" y="290" width="1.2" height="111" fill="rgba(80,70,210,.3)"/>
<rect x="246.95" y="290" width="1.2" height="111" fill="rgba(80,70,210,.3)"/>
<rect x="250.40" y="290" width="1.2" height="111" fill="rgba(80,70,210,.3)"/>
<rect x="253.85" y="290" width="1.2" height="111" fill="rgba(80,70,210,.3)"/>
<rect x="257.30" y="290" width="1.2" height="111" fill="rgba(80,70,210,.3)"/>
<rect x="260.75" y="290" width="1.2" height="111" fill="rgba(80,70,210,.3)"/>
<rect x="264.20" y="290" width="1.2" height="111" fill="rgba(80,70,210,.3)"/>
<rect x="267.65" y="290" width="1.2" height="111" fill="rgba(80,70,210,.3)"/>
<rect x="271.10" y="290" width="1.2" height="111" fill="rgba(80,70,210,.3)"/>
<rect x="274.55" y="290" width="1.2" height="111" fill="rgba(80,70,210,.3)"/>
<rect x="278.00" y="290" width="1.2" height="111" fill="rgba(80,70,210,.3)"/>
<rect x="281.45" y="290" width="1.2" height="111" fill="rgba(80,70,210,.3)"/>
<rect x="284.90" y="290" width="1.2" height="111" fill="rgba(80,70,210,.3)"/>
<rect x="288.35" y="290" width="1.2" height="111" fill="rgba(80,70,210,.3)"/>
<rect x="291.80" y="290" width="1.2" height="111" fill="rgba(80,70,210,.3)"/>
<rect x="295.25" y="290" width="1.2" height="111" fill="rgba(80,70,210,.3)"/>
<rect x="244.70" y="290" width="1" height="111" fill="rgba(140,140,255,.18)"/>
<rect x="255.05" y="290" width="1" height="111" fill="rgba(140,140,255,.18)"/>
<rect x="265.40" y="290" width="1" height="111" fill="rgba(140,140,255,.18)"/>
<rect x="275.75" y="290" width="1" height="111" fill="rgba(140,140,255,.18)"/>
<rect x="286.10" y="290" width="1" height="111" fill="rgba(140,140,255,.18)"/>
<rect x="234.4" y="301.40" width="61.5" height="1" fill="rgba(150,140,250,.55)"/>
<rect x="234.4" y="312.50" width="61.5" height="1" fill="rgba(150,140,250,.55)"/>
<rect x="234.4" y="323.60" width="61.5" height="1" fill="rgba(150,140,250,.55)"/>
<rect x="234.4" y="334.70" width="61.5" height="1" fill="rgba(150,140,250,.55)"/>
<rect x="234.4" y="345.80" width="61.5" height="1" fill="rgba(150,140,250,.55)"/>
<rect x="234.4" y="356.90" width="61.5" height="1" fill="rgba(150,140,250,.55)"/>
<rect x="234.4" y="368.00" width="61.5" height="1" fill="rgba(150,140,250,.55)"/>
<rect x="234.4" y="379.10" width="61.5" height="1" fill="rgba(150,140,250,.55)"/>
<rect x="234.4" y="390.20" width="61.5" height="1" fill="rgba(150,140,250,.55)"/>
<circle cx="245.20" cy="301.90" r="1.2" fill="rgba(200,200,255,.7)"/>
<circle cx="245.20" cy="313.00" r="1.2" fill="rgba(200,200,255,.7)"/>
<circle cx="245.20" cy="324.10" r="1.2" fill="rgba(200,200,255,.7)"/>
<circle cx="245.20" cy="335.20" r="1.2" fill="rgba(200,200,255,.7)"/>
<circle cx="245.20" cy="346.30" r="1.2" fill="rgba(200,200,255,.7)"/>
<circle cx="245.20" cy="357.40" r="1.2" fill="rgba(200,200,255,.7)"/>
<circle cx="245.20" cy="368.50" r="1.2" fill="rgba(200,200,255,.7)"/>
<circle cx="245.20" cy="379.60" r="1.2" fill="rgba(200,200,255,.7)"/>
<circle cx="245.20" cy="390.70" r="1.2" fill="rgba(200,200,255,.7)"/>
<circle cx="255.55" cy="301.90" r="1.2" fill="rgba(200,200,255,.7)"/>
<circle cx="255.55" cy="313.00" r="1.2" fill="rgba(200,200,255,.7)"/>
<circle cx="255.55" cy="324.10" r="1.2" fill="rgba(200,200,255,.7)"/>
<circle cx="255.55" cy="335.20" r="1.2" fill="rgba(200,200,255,.7)"/>
<circle cx="255.55" cy="346.30" r="1.2" fill="rgba(200,200,255,.7)"/>
<circle cx="255.55" cy="357.40" r="1.2" fill="rgba(200,200,255,.7)"/>
<circle cx="255.55" cy="368.50" r="1.2" fill="rgba(200,200,255,.7)"/>
<circle cx="255.55" cy="379.60" r="1.2" fill="rgba(200,200,255,.7)"/>
<circle cx="255.55" cy="390.70" r="1.2" fill="rgba(200,200,255,.7)"/>
<circle cx="265.90" cy="301.90" r="1.2" fill="rgba(200,200,255,.7)"/>
<circle cx="265.90" cy="313.00" r="1.2" fill="rgba(200,200,255,.7)"/>
<circle cx="265.90" cy="324.10" r="1.2" fill="rgba(200,200,255,.7)"/>
<circle cx="265.90" cy="335.20" r="1.2" fill="rgba(200,200,255,.7)"/>
<circle cx="265.90" cy="346.30" r="1.2" fill="rgba(200,200,255,.7)"/>
<circle cx="265.90" cy="357.40" r="1.2" fill="rgba(200,200,255,.7)"/>
<circle cx="265.90" cy="368.50" r="1.2" fill="rgba(200,200,255,.7)"/>
<circle cx="265.90" cy="379.60" r="1.2" fill="rgba(200,200,255,.7)"/>
<circle cx="265.90" cy="390.70" r="1.2" fill="rgba(200,200,255,.7)"/>
<circle cx="276.25" cy="301.90" r="1.2" fill="rgba(200,200,255,.7)"/>
<circle cx="276.25" cy="313.00" r="1.2" fill="rgba(200,200,255,.7)"/>
<circle cx="276.25" cy="324.10" r="1.2" fill="rgba(200,200,255,.7)"/>
<circle cx="276.25" cy="335.20" r="1.2" fill="rgba(200,200,255,.7)"/>
<circle cx="276.25" cy="346.30" r="1.2" fill="rgba(200,200,255,.7)"/>
<circle cx="276.25" cy="357.40" r="1.2" fill="rgba(200,200,255,.7)"/>
<circle cx="276.25" cy="368.50" r="1.2" fill="rgba(200,200,255,.7)"/>
<circle cx="276.25" cy="379.60" r="1.2" fill="rgba(200,200,255,.7)"/>
<circle cx="276.25" cy="390.70" r="1.2" fill="rgba(200,200,255,.7)"/>
<circle cx="286.60" cy="301.90" r="1.2" fill="rgba(200,200,255,.7)"/>
<circle cx="286.60" cy="313.00" r="1.2" fill="rgba(200,200,255,.7)"/>
<circle cx="286.60" cy="324.10" r="1.2" fill="rgba(200,200,255,.7)"/>
<circle cx="286.60" cy="335.20" r="1.2" fill="rgba(200,200,255,.7)"/>
<circle cx="286.60" cy="346.30" r="1.2" fill="rgba(200,200,255,.7)"/>
<circle cx="286.60" cy="357.40" r="1.2" fill="rgba(200,200,255,.7)"/>
<circle cx="286.60" cy="368.50" r="1.2" fill="rgba(200,200,255,.7)"/>
<circle cx="286.60" cy="379.60" r="1.2" fill="rgba(200,200,255,.7)"/>
<circle cx="286.60" cy="390.70" r="1.2" fill="rgba(200,200,255,.7)"/>
<rect x="234.4" y="290" width="1" height="111" fill="#c4c4ea"/>
<rect x="294.9" y="290" width="1" height="111" fill="#c4c4ea"/>
<rect x="234.4" y="290" width="61.5" height="11" fill="#000"/>
<rect x="305" y="290" width="61.5" height="111" fill="#2219b4"/>
<rect x="307.20" y="290" width="1.2" height="111" fill="rgba(80,70,210,.3)"/>
<rect x="310.65" y="290" width="1.2" height="111" fill="rgba(80,70,210,.3)"/>
<rect x="314.10" y="290" width="1.2" height="111" fill="rgba(80,70,210,.3)"/>
<rect x="317.55" y="290" width="1.2" height="111" fill="rgba(80,70,210,.3)"/>
<rect x="321.00" y="290" width="1.2" height="111" fill="rgba(80,70,210,.3)"/>
<rect x="324.45" y="290" width="1.2" height="111" fill="rgba(80,70,210,.3)"/>
<rect x="327.90" y="290" width="1.2" height="111" fill="rgba(80,70,210,.3)"/>
<rect x="331.35" y="290" width="1.2" height="111" fill="rgba(80,70,210,.3)"/>
<rect x="334.80" y="290" width="1.2" height="111" fill="rgba(80,70,210,.3)"/>
<rect x="338.25" y="290" width="1.2" height="111" fill="rgba(80,70,210,.3)"/>
<rect x="341.70" y="290" width="1.2" height="111" fill="rgba(80,70,210,.3)"/>
<rect x="345.15" y="290" width="1.2" height="111" fill="rgba(80,70,210,.3)"/>
<rect x="348.60" y="290" width="1.2" height="111" fill="rgba(80,70,210,.3)"/>
<rect x="352.05" y="290" width="1.2" height="111" fill="rgba(80,70,210,.3)"/>
<rect x="355.50" y="290" width="1.2" height="111" fill="rgba(80,70,210,.3)"/>
<rect x="358.95" y="290" width="1.2" height="111" fill="rgba(80,70,210,.3)"/>
<rect x="362.40" y="290" width="1.2" height="111" fill="rgba(80,70,210,.3)"/>
<rect x="365.85" y="290" width="1.2" height="111" fill="rgba(80,70,210,.3)"/>
<rect x="315.30" y="290" width="1" height="111" fill="rgba(140,140,255,.18)"/>
<rect x="325.65" y="290" width="1" height="111" fill="rgba(140,140,255,.18)"/>
<rect x="336.00" y="290" width="1" height="111" fill="rgba(140,140,255,.18)"/>
<rect x="346.35" y="290" width="1" height="111" fill="rgba(140,140,255,.18)"/>
<rect x="356.70" y="290" width="1" height="111" fill="rgba(140,140,255,.18)"/>
<rect x="305" y="301.40" width="61.5" height="1" fill="rgba(150,140,250,.55)"/>
<rect x="305" y="312.50" width="61.5" height="1" fill="rgba(150,140,250,.55)"/>
<rect x="305" y="323.60" width="61.5" height="1" fill="rgba(150,140,250,.55)"/>
<rect x="305" y="334.70" width="61.5" height="1" fill="rgba(150,140,250,.55)"/>
<rect x="305" y="345.80" width="61.5" height="1" fill="rgba(150,140,250,.55)"/>
<rect x="305" y="356.90" width="61.5" height="1" fill="rgba(150,140,250,.55)"/>
<rect x="305" y="368.00" width="61.5" height="1" fill="rgba(150,140,250,.55)"/>
<rect x="305" y="379.10" width="61.5" height="1" fill="rgba(150,140,250,.55)"/>
<rect x="305" y="390.20" width="61.5" height="1" fill="rgba(150,140,250,.55)"/>
<circle cx="315.80" cy="301.90" r="1.2" fill="rgba(200,200,255,.7)"/>
<circle cx="315.80" cy="313.00" r="1.2" fill="rgba(200,200,255,.7)"/>
<circle cx="315.80" cy="324.10" r="1.2" fill="rgba(200,200,255,.7)"/>
<circle cx="315.80" cy="335.20" r="1.2" fill="rgba(200,200,255,.7)"/>
<circle cx="315.80" cy="346.30" r="1.2" fill="rgba(200,200,255,.7)"/>
<circle cx="315.80" cy="357.40" r="1.2" fill="rgba(200,200,255,.7)"/>
<circle cx="315.80" cy="368.50" r="1.2" fill="rgba(200,200,255,.7)"/>
<circle cx="315.80" cy="379.60" r="1.2" fill="rgba(200,200,255,.7)"/>
<circle cx="315.80" cy="390.70" r="1.2" fill="rgba(200,200,255,.7)"/>
<circle cx="326.15" cy="301.90" r="1.2" fill="rgba(200,200,255,.7)"/>
<circle cx="326.15" cy="313.00" r="1.2" fill="rgba(200,200,255,.7)"/>
<circle cx="326.15" cy="324.10" r="1.2" fill="rgba(200,200,255,.7)"/>
<circle cx="326.15" cy="335.20" r="1.2" fill="rgba(200,200,255,.7)"/>
<circle cx="326.15" cy="346.30" r="1.2" fill="rgba(200,200,255,.7)"/>
<circle cx="326.15" cy="357.40" r="1.2" fill="rgba(200,200,255,.7)"/>
<circle cx="326.15" cy="368.50" r="1.2" fill="rgba(200,200,255,.7)"/>
<circle cx="326.15" cy="379.60" r="1.2" fill="rgba(200,200,255,.7)"/>
<circle cx="326.15" cy="390.70" r="1.2" fill="rgba(200,200,255,.7)"/>
<circle cx="336.50" cy="301.90" r="1.2" fill="rgba(200,200,255,.7)"/>
<circle cx="336.50" cy="313.00" r="1.2" fill="rgba(200,200,255,.7)"/>
<circle cx="336.50" cy="324.10" r="1.2" fill="rgba(200,200,255,.7)"/>
<circle cx="336.50" cy="335.20" r="1.2" fill="rgba(200,200,255,.7)"/>
<circle cx="336.50" cy="346.30" r="1.2" fill="rgba(200,200,255,.7)"/>
<circle cx="336.50" cy="357.40" r="1.2" fill="rgba(200,200,255,.7)"/>
<circle cx="336.50" cy="368.50" r="1.2" fill="rgba(200,200,255,.7)"/>
<circle cx="336.50" cy="379.60" r="1.2" fill="rgba(200,200,255,.7)"/>
<circle cx="336.50" cy="390.70" r="1.2" fill="rgba(200,200,255,.7)"/>
<circle cx="346.85" cy="301.90" r="1.2" fill="rgba(200,200,255,.7)"/>
<circle cx="346.85" cy="313.00" r="1.2" fill="rgba(200,200,255,.7)"/>
<circle cx="346.85" cy="324.10" r="1.2" fill="rgba(200,200,255,.7)"/>
<circle cx="346.85" cy="335.20" r="1.2" fill="rgba(200,200,255,.7)"/>
<circle cx="346.85" cy="346.30" r="1.2" fill="rgba(200,200,255,.7)"/>
<circle cx="346.85" cy="357.40" r="1.2" fill="rgba(200,200,255,.7)"/>
<circle cx="346.85" cy="368.50" r="1.2" fill="rgba(200,200,255,.7)"/>
<circle cx="346.85" cy="379.60" r="1.2" fill="rgba(200,200,255,.7)"/>
<circle cx="346.85" cy="390.70" r="1.2" fill="rgba(200,200,255,.7)"/>
<circle cx="357.20" cy="301.90" r="1.2" fill="rgba(200,200,255,.7)"/>
<circle cx="357.20" cy="313.00" r="1.2" fill="rgba(200,200,255,.7)"/>
<circle cx="357.20" cy="324.10" r="1.2" fill="rgba(200,200,255,.7)"/>
<circle cx="357.20" cy="335.20" r="1.2" fill="rgba(200,200,255,.7)"/>
<circle cx="357.20" cy="346.30" r="1.2" fill="rgba(200,200,255,.7)"/>
<circle cx="357.20" cy="357.40" r="1.2" fill="rgba(200,200,255,.7)"/>
<circle cx="357.20" cy="368.50" r="1.2" fill="rgba(200,200,255,.7)"/>
<circle cx="357.20" cy="379.60" r="1.2" fill="rgba(200,200,255,.7)"/>
<circle cx="357.20" cy="390.70" r="1.2" fill="rgba(200,200,255,.7)"/>
<rect x="305" y="290" width="1" height="111" fill="#c4c4ea"/>
<rect x="365.5" y="290" width="1" height="111" fill="#c4c4ea"/>
<rect x="305" y="290" width="61.5" height="18" fill="#000"/>
</svg>
<div class="a lbl" style="left:28.6px;top:410.9px">遮短边<span class="dg">25%</span></div>
<div class="a lbl" style="left:99.0px;top:410.9px">遮短边<span class="dg">50%</span></div>
<div class="a lbl" style="left:169.6px;top:410.9px">遮短边<span class="dg">75%</span></div>
<div class="a lbl" style="left:237.5px;top:410.9px">遮短边<span class="dg">100%</span></div>
<div class="a lbl" style="left:309.7px;top:410.9px">遮短边<span class="dg">150%</span></div>

<!-- chart -->
<div class="a" style="left:459px;top:134px;font-size:15px;font-weight:bold;color:#111;-webkit-text-stroke:0.3px #111">半片双面、常规组件发电量损失对比</div>
<div class="gl" style="top:173.5px"></div>
<div class="gl" style="top:209px"></div>
<div class="gl" style="top:244.5px"></div>
<div class="gl" style="top:280px"></div>
<div class="gl" style="top:315.5px"></div>
<div class="gl" style="top:351px"></div>
<div class="a yl" style="left:365.5px;top:170px">-100%</div>
<div class="a yl" style="left:365.5px;top:205.5px">-80%</div>
<div class="a yl" style="left:365.5px;top:241px">-60%</div>
<div class="a yl" style="left:365.5px;top:276.5px">-40%</div>
<div class="a yl" style="left:365.5px;top:312px">-20%</div>
<div class="a yl" style="left:365.5px;top:347.5px">0%</div>
<!--BARS-->
<div class="bar" style="left:427.2px;top:321.7px;width:19.0px;height:29.6px;background:#4a7ebb"></div>
<div class="bar" style="left:455.0px;top:318.6px;width:18.4px;height:32.7px;background:#e8710e"></div>
<div class="a dl" style="left:415.8px;top:304.6px">-16.7%</div>
<div class="a dl" style="left:449.0px;top:303.6px">-18.4%</div>
<div class="a cl" style="left:415.5px;top:360.5px">遮短边<span style="font-size:9px">25%</span></div>
<div class="bar" style="left:500.3px;top:275.3px;width:19.0px;height:76.0px;background:#4a7ebb"></div>
<div class="bar" style="left:528.1px;top:277.6px;width:18.4px;height:73.7px;background:#e8710e"></div>
<div class="a dl" style="left:489.7px;top:259.9px">-42.8%</div>
<div class="a dl" style="left:521.6px;top:265.2px">-41.5%</div>
<div class="a cl" style="left:488.6px;top:360.5px">遮短边<span style="font-size:9px">50%</span></div>
<div class="bar" style="left:573.4px;top:275.2px;width:19.0px;height:76.1px;background:#4a7ebb"></div>
<div class="bar" style="left:601.2px;top:209.5px;width:18.4px;height:141.8px;background:#e8710e"></div>
<div class="a dl" style="left:562.7px;top:259.7px">-42.9%</div>
<div class="a dl" style="left:589.8px;top:194.8px">-79.9%</div>
<div class="a cl" style="left:561.7px;top:360.5px">遮短边<span style="font-size:9px">75%</span></div>
<div class="bar" style="left:646.5px;top:273.9px;width:19.0px;height:77.4px;background:#4a7ebb"></div>
<div class="bar" style="left:674.3px;top:174.7px;width:18.4px;height:176.6px;background:#e8710e"></div>
<div class="a dl" style="left:635.5px;top:258.3px">-43.6%</div>
<div class="a dl" style="left:662.7px;top:159.5px">-99.5%</div>
<div class="a cl" style="left:634.8px;top:360.5px">遮短边<span style="font-size:9px">100%</span></div>
<div class="bar" style="left:719.6px;top:271.6px;width:19.0px;height:79.7px;background:#4a7ebb"></div>
<div class="bar" style="left:747.4px;top:173.8px;width:18.4px;height:177.5px;background:#e8710e"></div>
<div class="a dl" style="left:708.8px;top:256.3px">-44.9%</div>
<div class="a dl" style="left:735.5px;top:159.5px">-100%</div>
<div class="a cl" style="left:707.9px;top:360.5px">遮短边<span style="font-size:9px">150%</span></div>
<div class="a" style="left:436.5px;top:314px;width:0.8px;height:7px;background:#a0a0a0"></div>
<!--/BARS-->

<!-- tooltip -->
<div class="a" style="left:460px;top:222.5px;width:39px;height:17px;border:1px solid #cfcfcf;background:#f6f6f6;box-shadow:0 0 2px rgba(0,0,0,.15)"></div>
<div class="a" style="left:463px;top:225.5px;font-size:10px;letter-spacing:0.5px;color:#000;-webkit-text-stroke:0.2px #000">绘图区</div>

<!-- legend -->
<div class="a" style="left:512.3px;top:382px;width:5.5px;height:5px;background:#4a7ebb"></div>
<div class="a" style="left:519px;top:380.5px;font-size:9px;letter-spacing:-0.65px;color:#222">双面组件发电量损失比</div>
<div class="a" style="left:632.5px;top:382px;width:5.5px;height:5px;background:#e2721a"></div>
<div class="a" style="left:640px;top:380.5px;font-size:9px;letter-spacing:-0.65px;color:#222">常规组件发电量损失比</div>

<!-- bottom text -->
<div class="a bt" style="left:390px;top:398px;letter-spacing:-0.7px">在短边阴影遮挡情况下</div>
<div class="a bt" style="left:523px;top:398px">，</div>
<div class="a bt" style="left:537px;top:398px;letter-spacing:-0.77px">常规组件在对短边遮挡</div>
<div class="a bt" style="left:670px;top:398.5px;font-size:13px">100%</div>
<div class="a bt" style="left:704px;top:398px">，</div>
<div class="a bt" style="left:718.5px;top:398px;letter-spacing:-0.95px">发电量几乎</div>
<div class="a bt" style="left:390.5px;top:424px;letter-spacing:-0.8px">损失</div>
<div class="a" style="left:416.5px;top:424px;font-size:14.3px;font-weight:bold;color:#c3313a">100%</div>
<div class="a bt" style="left:454px;top:424px">，</div>
<div class="a bt" style="left:467.5px;top:424px;letter-spacing:-0.6px">而常规组件只有</div>
<div class="a bt" style="left:560.5px;top:424.5px;font-size:13px">44%</div>
<div class="a bt" style="left:586.5px;top:424px;letter-spacing:-0.8px">左右的发电量损失。</div>

<!-- wechat watermark -->
<svg class="a" style="left:570px;top:395px" width="60" height="45" viewBox="570 395 60 45">
 <ellipse cx="591" cy="414" rx="10.5" ry="9" fill="rgba(255,255,255,.85)" stroke="#bdbdbd" stroke-width="0.7"/>
 <path d="M584,420 L583.5,425 L589,422.5" fill="rgba(255,255,255,.85)" stroke="#bdbdbd" stroke-width="0.7"/>
 <ellipse cx="602.6" cy="419.8" rx="9" ry="7.3" fill="rgba(255,255,255,.9)" stroke="#b0b0b0" stroke-width="0.7"/>
 <circle cx="587" cy="410" r="0.8" fill="#c8c8c8"/><circle cx="593" cy="410" r="0.8" fill="#c8c8c8"/>
 <circle cx="600" cy="416.5" r="0.8" fill="#b8b8b8"/><circle cx="607" cy="416.5" r="0.8" fill="#b8b8b8"/>
</svg>
<div class="a" style="left:618px;top:409px;font-size:19px;color:#fff;text-shadow:0 0 1px rgba(100,100,100,.75),0 0 0.5px rgba(130,130,130,.6);letter-spacing:0.3px">林洋新能源研究院</div>

<!-- big watermark -->
<svg class="a" style="left:0;top:0" width="800" height="453">
 <defs>
  <mask id="gm"><rect x="0" y="0" width="800" height="453" fill="#fff"/><rect x="722" y="221" width="40" height="19.6" fill="#000"/></mask>
 </defs>
 <g opacity="0.575" fill="#d7d7d7">
  <path d="M33.4,197 H55.9 V280.5 H85 V297 H33.4 Z"/>
  <path d="M106.6,197 H145.4 V215 H136.6 V280 H145.4 V297 H106.6 V280 H117 V215 H106.6 Z"/>
  <path d="M169.4,197.5 L192.6,197.5 L236.4,264.8 L236.4,197.5 L258,197.5 L258,297 L235,297 L190,227.5 L190,297 L169.4,297 Z"/>
  <path d="M328,197 L349.5,197 L371.5,229 L393,197 L414.3,197 L382.5,257 L382.5,297 L360.5,297 L360.5,257 Z"/>
  <path fill-rule="evenodd" d="M460,197 L485.5,197 L520.5,297 L497.5,297 L489.8,274 L455.7,274 L448,297 L425,297 Z M472.75,222.7 L484.5,258 L461,258 Z"/>
  <path d="M542.8,197 L565.5,197 L609,264 L609,197 L628.8,197 L628.8,297 L607.5,297 L563.7,229 L563.7,297 L542.8,297 Z"/>
  <path d="M744,228.7 L727,228.7 C722,218 713,212.8 703,212.8 C688,212.8 680,228 680,247.2 C680,268 690,281.6 704,281.6 C712,281.6 718,279 722,274 L722,257.4 L703,257.4 L703,240.8 L744,240.8 L744,286 C737,294 722,298.5 704,298.5 C676,298.5 658,277 658,247.2 C658,217 678,197 704,197 C722,197 736,202 744,208 Z"/>
 </g>
</svg>
</body></html>
